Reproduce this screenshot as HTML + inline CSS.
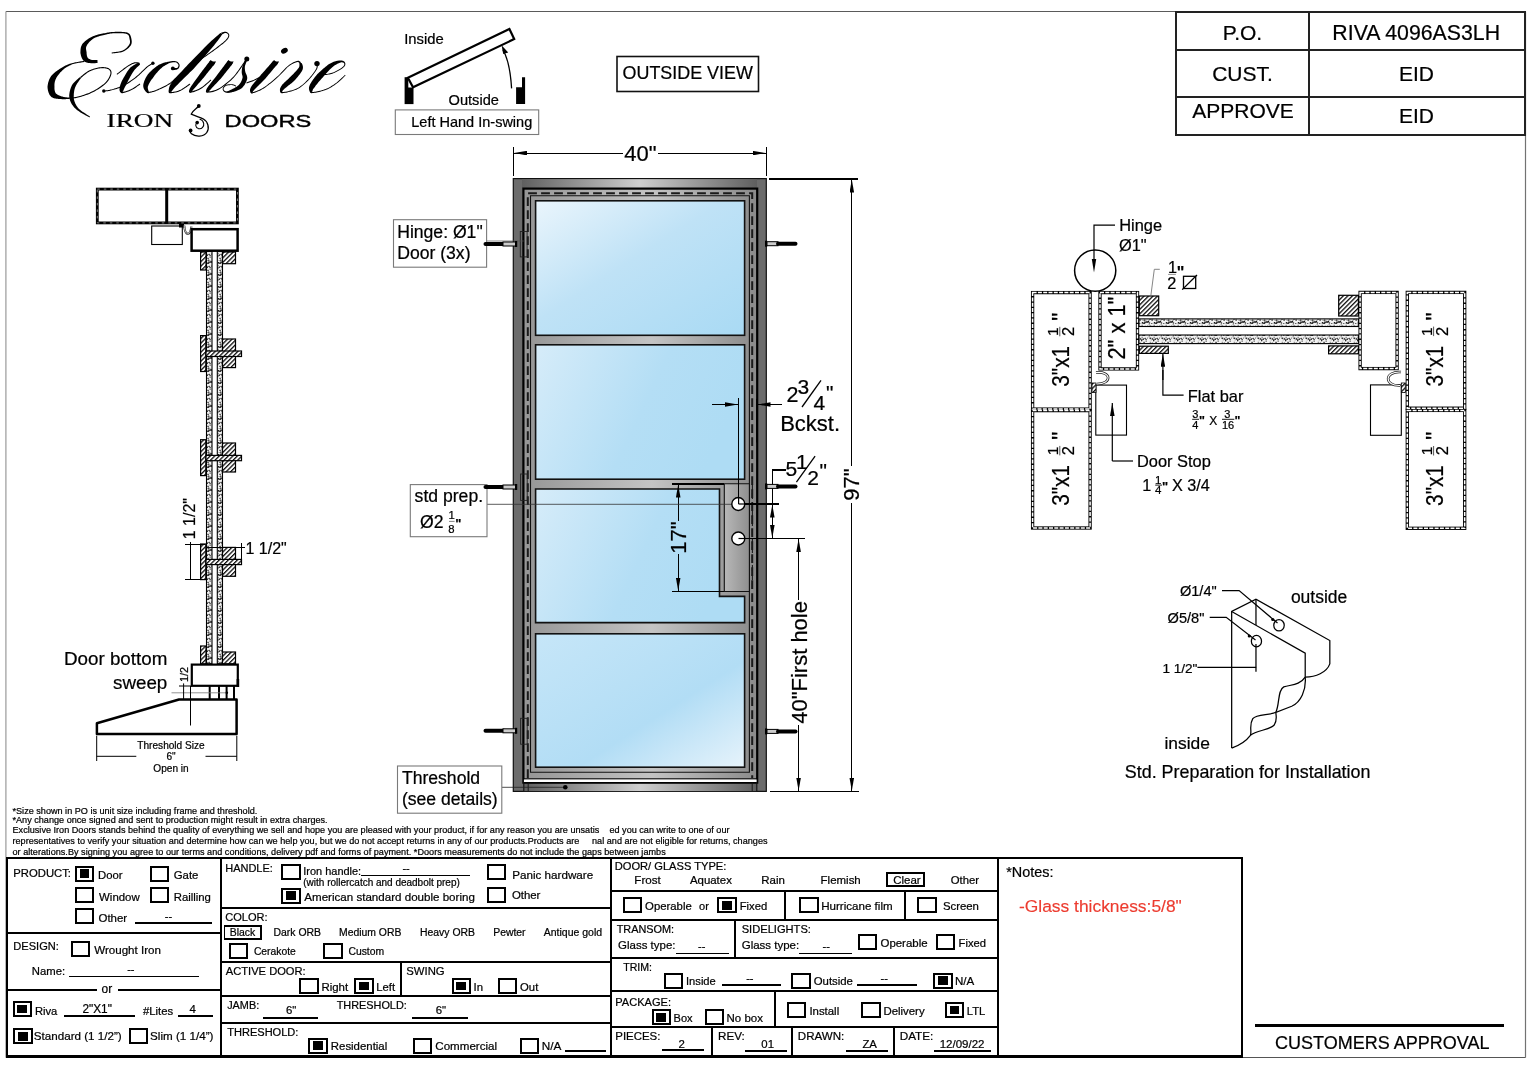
<!DOCTYPE html>
<html><head><meta charset="utf-8">
<style>
html,body{margin:0;padding:0;background:#fff;width:1536px;height:1070px;overflow:hidden}
svg{display:block;position:absolute;left:0;top:0;will-change:transform}
text{font-family:"Liberation Sans",sans-serif;fill:#000;stroke:#000;stroke-width:0.22px}
.s{font-family:"Liberation Serif",serif}
</style></head><body>
<svg width="1536" height="1070" viewBox="0 0 1536 1070">
<defs>
</defs>
<!-- page border -->
<g stroke-width="1.2" fill="none">
<line x1="5.9" y1="11.5" x2="1525.5" y2="11.5" stroke="#5a5a5a"/>
<line x1="5.9" y1="11.5" x2="5.9" y2="1057.5" stroke="#9a9a9a"/>
<line x1="1525.5" y1="11.5" x2="1525.5" y2="1057.5" stroke="#727272"/>
<line x1="5.9" y1="1057.5" x2="1525.5" y2="1057.5" stroke="#555"/>
</g>

<!-- title table -->
<g fill="none" stroke="#222" stroke-width="2" shape-rendering="crispEdges">
<rect x="1176" y="12" width="349" height="122.5"/>
<line x1="1309" y1="12" x2="1309" y2="134.5"/>
<line x1="1176" y1="50.2" x2="1525" y2="50.2"/>
<line x1="1176" y1="96.5" x2="1525" y2="96.5"/>
</g>
<g font-size="21" text-anchor="middle">
<text x="1242.5" y="39.6">P.O.</text>
<text x="1416.2" y="39.6" font-size="21.3">RIVA 4096AS3LH</text>
<text x="1242.5" y="81.2">CUST.</text>
<text x="1416.5" y="81.2">EID</text>
<text x="1243" y="117.8">APPROVE</text>
<text x="1416.5" y="123">EID</text>
</g>

<!-- outside view -->
<rect x="617" y="56.5" width="141.5" height="35" fill="none" stroke="#111" stroke-width="1.6"/>
<text x="687.7" y="79" font-size="17.9" text-anchor="middle">OUTSIDE VIEW</text>


<!-- ===== DOOR ELEVATION ===== -->
<defs>
<linearGradient id="glass" x1="0" y1="0" x2="1" y2="1">
<stop offset="0" stop-color="#eaf5fc"/><stop offset="0.45" stop-color="#bfe2f6"/><stop offset="1" stop-color="#a9daf4"/>
</linearGradient>
<linearGradient id="glass2" x1="0" y1="0" x2="1" y2="0.3">
<stop offset="0" stop-color="#d6ecf9"/><stop offset="0.6" stop-color="#b4def5"/><stop offset="1" stop-color="#aedcf4"/>
</linearGradient>
<linearGradient id="glass4" x1="0" y1="0" x2="1" y2="1">
<stop offset="0" stop-color="#c6e6f8"/><stop offset="0.6" stop-color="#b2ddf5"/><stop offset="1" stop-color="#e6f3fb"/>
</linearGradient>
<linearGradient id="rail" x1="0" y1="0" x2="1" y2="0">
<stop offset="0" stop-color="#5f5f5f"/><stop offset="0.5" stop-color="#cfcfcf"/><stop offset="1" stop-color="#5f5f5f"/>
</linearGradient>
<linearGradient id="mun" x1="0" y1="0" x2="1" y2="0">
<stop offset="0" stop-color="#959595"/><stop offset="0.55" stop-color="#c4c4c4"/><stop offset="1" stop-color="#8a8a8a"/>
</linearGradient>
<linearGradient id="plate" x1="0" y1="0" x2="1" y2="0">
<stop offset="0" stop-color="#b8b8b8"/><stop offset="1" stop-color="#8f8f8f"/>
</linearGradient>
</defs>
<g>
<!-- frame -->
<rect x="513.3" y="178.6" width="253" height="612.8" fill="#6c6c6c" stroke="#111" stroke-width="1.2"/>
<rect x="522" y="179.2" width="235" height="9" fill="url(#rail)"/>
<rect x="523.5" y="782.5" width="233" height="8.6" fill="url(#rail)"/>
<!-- sash region -->
<rect x="523.4" y="188.6" width="233.8" height="594" fill="url(#mun)" stroke="#000" stroke-width="2.2"/>
<!-- bottom white stripe -->
<rect x="523.9" y="779.3" width="232.7" height="2.8" fill="#fff" stroke="none"/>
<line x1="523.4" y1="778.8" x2="757" y2="778.8" stroke="#000" stroke-width="1"/>
<line x1="523.4" y1="782.6" x2="757" y2="782.6" stroke="#000" stroke-width="1.1"/>
<line x1="528.2" y1="782.6" x2="528.2" y2="791" stroke="#111" stroke-width="0.9"/>
<line x1="523.8" y1="782" x2="523.8" y2="791" stroke="#111" stroke-width="1.1"/>
<line x1="752.2" y1="782.6" x2="752.2" y2="791" stroke="#111" stroke-width="0.9"/>
<line x1="756.8" y1="782" x2="756.8" y2="791" stroke="#111" stroke-width="1.1"/>
<!-- dashed line -->
<path d="M527.8,778 V193.3 H752.2 V778" fill="none" stroke="#1a1a1a" stroke-width="2" stroke-dasharray="8.8 4.2"/>
<!-- sash inner line -->
<path d="M530.5,772.2 V195.8 H749.4 V772.2 Z" fill="none" stroke="#111" stroke-width="1.1"/>
<!-- glass panes -->
<rect x="535.6" y="200.8" width="209" height="134.5" fill="url(#glass)" stroke="#111" stroke-width="1.6"/>
<rect x="535.6" y="344.8" width="209" height="134.4" fill="url(#glass2)" stroke="#111" stroke-width="1.6"/>
<path d="M535.6,489 H719.5 V596.4 H744.6 V622.6 H535.6 Z" fill="url(#glass2)" stroke="#111" stroke-width="1.6"/>
<rect x="535.6" y="633.8" width="209" height="133.4" fill="url(#glass4)" stroke="#111" stroke-width="1.6"/>
<!-- lock plate -->
<path d="M724.3,483.8 H749.4 V591.5 H724.3 Z" fill="url(#plate)" stroke="#111" stroke-width="1.1"/>
<line x1="752.4" y1="484" x2="752.4" y2="592" stroke="#1a1a1a" stroke-width="1.1" stroke-dasharray="6 3"/>
<!-- threshold leader -->
<line x1="502" y1="787.3" x2="565" y2="787.3" stroke="#222" stroke-width="0.8"/>
<circle cx="565.3" cy="787.3" r="2.3" fill="#000"/>
</g>


<!-- ===== DOOR ANNOTATIONS ===== -->
<defs>
<marker id="ar" viewBox="0 0 13 4.6" refX="13" refY="2.3" markerWidth="13" markerHeight="4.6" markerUnits="userSpaceOnUse" orient="auto">
<path d="M0,0 L13,2.3 L0,4.6 Z" fill="#000"/>
</marker>
</defs>
<g stroke="#000" stroke-width="1.2" fill="none" shape-rendering="crispEdges">
<!-- 40" dim -->
<line x1="513.1" y1="146.5" x2="513.1" y2="175.6"/>
<line x1="766.5" y1="147" x2="766.5" y2="175.5"/>
<line x1="623" y1="153.1" x2="514" y2="153.1" marker-end="url(#ar)"/>
<line x1="658" y1="153.1" x2="765.5" y2="153.1" marker-end="url(#ar)"/>
<!-- 97" dim -->
<line x1="769.3" y1="178.9" x2="858.1" y2="178.9"/>
<line x1="770" y1="791.3" x2="858.5" y2="791.3"/>
<line x1="851.8" y1="466" x2="851.8" y2="179.5" marker-end="url(#ar)"/>
<line x1="851.8" y1="503" x2="851.8" y2="790.8" marker-end="url(#ar)"/>
<!-- 40" first hole -->
<line x1="798.6" y1="600" x2="798.6" y2="539" marker-end="url(#ar)"/>
<line x1="798.6" y1="725" x2="798.6" y2="790.8" marker-end="url(#ar)"/>
<line x1="738.5" y1="538.5" x2="805.4" y2="538.5"/>
<!-- 5 1/2 -->
<line x1="738.5" y1="504" x2="779" y2="504"/>
<path d="M786.4,469.9 H772.3 V538"/>
<line x1="772.3" y1="521" x2="772.3" y2="504.6" marker-end="url(#ar)"/>
<line x1="772.3" y1="521" x2="772.3" y2="538" marker-end="url(#ar)"/>
<!-- backset -->
<line x1="712.3" y1="404.5" x2="738" y2="404.5" marker-end="url(#ar)"/>
<line x1="738.6" y1="397.7" x2="738.6" y2="503"/>
<line x1="781.5" y1="404.5" x2="757.5" y2="404.5" marker-end="url(#ar)"/>
<!-- 17" -->
<line x1="672" y1="484" x2="724" y2="484"/>
<line x1="672" y1="591.3" x2="724" y2="591.3"/>
<line x1="678.2" y1="521" x2="678.2" y2="484.6" marker-end="url(#ar)"/>
<line x1="678.2" y1="554" x2="678.2" y2="590.7" marker-end="url(#ar)"/>
</g>
<line x1="487" y1="504.3" x2="738" y2="504.3" stroke="#333" stroke-width="0.8"/>
<line x1="757" y1="399" x2="757" y2="442.6" stroke="#000" stroke-width="1.6"/>
<!-- holes -->
<circle cx="738.3" cy="504" r="6.5" fill="#fff" stroke="#000" stroke-width="1.4"/>
<circle cx="738.3" cy="538.5" r="6.5" fill="#fff" stroke="#000" stroke-width="1.4"/>
<line x1="738.6" y1="497.5" x2="738.6" y2="504" stroke="#000" stroke-width="1.2"/>
<line x1="738.5" y1="538.5" x2="745" y2="538.5" stroke="#000" stroke-width="1.2"/>
<line x1="738.5" y1="504" x2="745" y2="504" stroke="#000" stroke-width="1.2"/>

<!-- hinge pins -->
<defs>
<g id="pinL">
<line x1="0.5" y1="0" x2="19" y2="0" stroke="#000" stroke-width="4" stroke-linecap="round"/>
<rect x="18" y="-2" width="12.5" height="4" fill="#ccc" stroke="#000" stroke-width="1"/>
<rect x="30" y="-3" width="2.2" height="6" fill="#000"/>
</g>
<g id="pinR">
<rect x="-1" y="-3" width="2.2" height="6" fill="#000"/>
<rect x="1" y="-2" width="11" height="4" fill="#ccc" stroke="#000" stroke-width="1"/>
<line x1="12" y1="0" x2="29.5" y2="0" stroke="#000" stroke-width="4" stroke-linecap="round"/>
</g>
</defs>

<g fill="none" stroke="#222" stroke-width="0.9">
<rect x="520.3" y="231.5" width="6.8" height="25.4"/>
<rect x="520.6" y="474" width="6.6" height="26.4"/>
<rect x="520.6" y="718.3" width="6.6" height="25.9"/>
<line x1="486.8" y1="241" x2="523.7" y2="241" stroke="#555" stroke-width="0.7"/>
</g>

<!-- label boxes -->
<g fill="#fff" stroke="#7a7a7a" stroke-width="1.1">
<rect x="395.3" y="109.9" width="143.4" height="24.6"/>
<rect x="393.5" y="219.7" width="93.1" height="47.5"/>
<rect x="410.3" y="484.6" width="76.7" height="52.1"/>
<rect x="397.5" y="766" width="104.3" height="47.2"/>
</g>
<use href="#pinL" x="485" y="244"/>
<use href="#pinL" x="485" y="487"/>
<use href="#pinL" x="485" y="730.8"/>
<use href="#pinR" x="766" y="243.7"/>
<use href="#pinR" x="766" y="486.4"/>
<use href="#pinR" x="766" y="731.4"/>
<text x="411.3" y="127" font-size="14.5">Left Hand In-swing</text>
<text x="397.2" y="237.8" font-size="17.6">Hinge: Ø1"</text>
<text x="397.2" y="259.3" font-size="17.6">Door (3x)</text>
<text x="414.6" y="502.2" font-size="17.6">std prep.</text>
<text x="420" y="527.6" font-size="17.6">Ø2</text>
<text x="401.9" y="783.6" font-size="17.6">Threshold</text>
<text x="401.9" y="804.8" font-size="17.6">(see details)</text>

<!-- dim texts -->
<text x="624.3" y="161" font-size="22">40"</text>
<text transform="translate(858.5,484.5) rotate(-90)" font-size="22" text-anchor="middle">97"</text>
<text transform="translate(806.5,662.4) rotate(-90)" font-size="22" text-anchor="middle">40"First hole</text>
<text transform="translate(686,537.5) rotate(-90)" font-size="22" text-anchor="middle">17"</text>
<text x="780.2" y="430.6" font-size="22">Bckst.</text>

<!-- swing diagram -->
<text x="404.2" y="44.4" font-size="14.8">Inside</text>
<text x="448.6" y="105.2" font-size="14.6">Outside</text>
<rect x="404.6" y="77.2" width="8.9" height="26.9" fill="#000"/>
<path d="M408.3,79.2 L413.2,87.5 H408.3 Z" fill="#fff"/>
<path d="M516.1,87.3 H522 V77.2 H525.1 V104.1 H516.1 Z" fill="#000"/>
<path d="M407.9,77.7 L509.4,29 L514.2,39.1 L413,87.3 Z" fill="#fff" stroke="#000" stroke-width="2.2" stroke-linejoin="miter"/>
<path d="M511.6,88.4 Q510,62 503,50" fill="none" stroke="#000" stroke-width="1.3"/>
<path d="M501.6,45.2 L508.2,52.6 L503.2,54 Z" fill="#000"/>


<!-- fractions -->
<text x="786.4" y="401.6" font-size="21.5">2</text>
<text x="797.6" y="393.6" font-size="21">3</text>
<line x1="802" y1="407" x2="821" y2="380.3" stroke="#000" stroke-width="1.3"/>
<text x="813.4" y="409.5" font-size="21">4</text>
<text x="826" y="400" font-size="21">"</text>
<text x="785.5" y="476" font-size="21">5</text>
<text x="796" y="468.7" font-size="21">1</text>
<line x1="796.4" y1="482.2" x2="815.1" y2="456.2" stroke="#000" stroke-width="1.3"/>
<text x="807.2" y="485.3" font-size="21">2</text>
<text x="819.6" y="477.5" font-size="21">"</text>
<text x="448.6" y="519.3" font-size="11.3">1</text>
<line x1="449" y1="521.4" x2="454.6" y2="521.4" stroke="#666" stroke-width="0.8"/>
<text x="448.2" y="532.7" font-size="11.3">8</text>
<text x="455.3" y="527.6" font-size="13" font-weight="bold">"</text>


<!-- ===== LEFT SECTION VIEW ===== -->
<defs>
<pattern id="hatch" patternUnits="userSpaceOnUse" width="3.2" height="3.2" patternTransform="rotate(45)">
<rect width="3.2" height="3.2" fill="#fff"/><rect width="1.3" height="3.2" fill="#111"/>
</pattern>
<pattern id="stip" patternUnits="userSpaceOnUse" width="12" height="12"><rect width="12" height="12" fill="#f2f2f2"/><g fill="#111"><rect x="7.5" y="8.9" width="1.3" height="1.3"/><rect x="8.9" y="11.1" width="0.5" height="0.9"/><rect x="11.3" y="7.8" width="1.4" height="0.6"/><rect x="5.6" y="3.0" width="1.0" height="1.0"/><rect x="0.2" y="2.6" width="0.8" height="1.2"/><rect x="9.2" y="1.9" width="1.3" height="0.6"/><rect x="7.4" y="1.5" width="0.5" height="1.2"/><rect x="2.5" y="2.6" width="1.5" height="1.2"/><rect x="3.5" y="11.5" width="1.0" height="1.0"/><rect x="2.5" y="11.3" width="1.2" height="1.3"/><rect x="10.7" y="3.6" width="0.9" height="0.6"/><rect x="1.7" y="0.8" width="0.8" height="1.0"/><rect x="0.0" y="8.1" width="0.8" height="0.7"/><rect x="9.8" y="5.8" width="0.8" height="0.9"/><rect x="8.5" y="0.7" width="1.5" height="0.5"/><rect x="9.0" y="10.1" width="0.5" height="1.1"/><rect x="4.4" y="6.9" width="0.5" height="0.5"/><rect x="2.2" y="11.5" width="0.7" height="1.1"/><rect x="11.2" y="11.3" width="0.8" height="0.8"/><rect x="6.3" y="9.3" width="0.6" height="1.1"/><rect x="9.6" y="10.3" width="0.5" height="1.3"/><rect x="1.1" y="4.1" width="1.1" height="1.2"/><rect x="4.1" y="11.1" width="1.0" height="0.7"/><rect x="3.8" y="2.1" width="0.6" height="0.6"/><rect x="8.3" y="12.0" width="0.7" height="0.5"/><rect x="11.8" y="6.4" width="0.9" height="0.7"/><rect x="7.1" y="9.9" width="1.0" height="0.8"/><rect x="0.7" y="11.0" width="0.5" height="0.9"/><rect x="10.1" y="1.6" width="1.2" height="1.3"/><rect x="7.6" y="9.5" width="0.6" height="0.8"/><rect x="1.8" y="10.1" width="0.8" height="0.9"/><rect x="12.0" y="10.2" width="1.5" height="0.9"/><rect x="5.9" y="8.8" width="1.0" height="0.7"/><rect x="4.8" y="1.8" width="0.9" height="1.3"/><rect x="11.5" y="7.5" width="1.0" height="0.8"/><rect x="1.1" y="3.3" width="1.3" height="1.2"/><rect x="4.3" y="9.4" width="1.3" height="1.1"/><rect x="8.0" y="9.1" width="0.9" height="1.1"/><rect x="3.4" y="5.8" width="1.3" height="1.1"/><rect x="3.5" y="11.3" width="1.1" height="1.0"/><rect x="0.1" y="6.6" width="0.8" height="1.0"/><rect x="5.6" y="9.8" width="1.1" height="1.1"/><rect x="4.2" y="7.7" width="1.2" height="1.2"/><rect x="4.2" y="10.1" width="1.4" height="1.1"/><rect x="11.7" y="11.5" width="1.0" height="0.9"/><rect x="2.0" y="10.0" width="1.4" height="0.9"/><rect x="8.3" y="8.6" width="1.2" height="0.6"/><rect x="9.4" y="7.0" width="1.2" height="0.8"/><rect x="7.5" y="9.3" width="1.1" height="1.1"/><rect x="0.3" y="1.9" width="0.9" height="1.0"/><rect x="2.6" y="8.2" width="1.1" height="0.5"/><rect x="5.7" y="2.7" width="0.6" height="0.6"/><rect x="3.8" y="2.2" width="0.7" height="0.5"/><rect x="5.6" y="4.6" width="1.1" height="1.0"/><rect x="2.9" y="10.8" width="0.5" height="0.8"/></g></pattern>
</defs>
<g stroke="#000">
<!-- header -->
<rect x="97.3" y="189.1" width="140.1" height="33.8" fill="#fff" stroke-width="2.8"/>
<line x1="166.7" y1="188" x2="166.7" y2="224" stroke-width="3"/>
<g fill="none" stroke="#fff" stroke-width="0.5" stroke-dasharray="2.5 4">
<rect x="97.3" y="189.1" width="140.1" height="33.8"/>
</g>
<rect x="151.7" y="226" width="30.6" height="18.5" fill="#fff" stroke-width="1.1"/>
<rect x="179" y="224" width="5" height="3.5" fill="#000" stroke="none"/>
<path d="M184.2,225.5 C185,236.5 190.5,236.5 191.3,226.5" fill="none" stroke="#222" stroke-width="2.2"/>
<path d="M184.2,225.5 C185,236.5 190.5,236.5 191.3,226.5" fill="none" stroke="#fff" stroke-width="0.8" style="stroke:#fff"/>
<!-- door top -->
<rect x="191.6" y="229.2" width="46" height="21.5" fill="#fff" stroke-width="2.5"/>
<!-- glass -->
<rect x="206.5" y="251.5" width="5.5" height="412.3" fill="url(#stip)" stroke-width="1.1"/>
<rect x="217.3" y="251.5" width="5.2" height="412.3" fill="url(#stip)" stroke-width="1.1"/>
<!-- hatched blocks -->
<g fill="url(#hatch)" stroke-width="1.2">
<rect x="200.6" y="252" width="5.4" height="18"/>
<rect x="222.5" y="252" width="13" height="11.7"/>
<rect x="200.6" y="335.6" width="5.2" height="35.9"/>
<rect x="222.5" y="339" width="13" height="28.6"/>
<rect x="206" y="351" width="35.5" height="5.5"/>
<rect x="200.6" y="439.7" width="5.2" height="35.9"/>
<rect x="222.5" y="443" width="13" height="29"/>
<rect x="206" y="455.4" width="35.5" height="5.3"/>
<rect x="200.6" y="544" width="5.2" height="35.6"/>
<rect x="222.5" y="547.4" width="13" height="28.9"/>
<rect x="206" y="559.4" width="35.5" height="5.2"/>
<rect x="200.6" y="646" width="5.4" height="17.8"/>
<rect x="222.5" y="652" width="13" height="11.8"/>
</g>
<!-- bottom door rect -->
<rect x="191.8" y="664.6" width="46" height="21.2" fill="#fff" stroke-width="2.2"/>
<rect x="236.6" y="679" width="2.6" height="8" fill="#000" stroke="none"/>
<g stroke-width="2">
<line x1="209.7" y1="686" x2="209.7" y2="699"/>
<line x1="219" y1="686" x2="219" y2="699"/>
<line x1="226.6" y1="686" x2="226.6" y2="699"/>
<line x1="234" y1="686" x2="234" y2="699"/>
</g>
<line x1="171.5" y1="692.8" x2="228" y2="692.8" stroke="#777" stroke-width="0.8"/>
<circle cx="226.8" cy="692.8" r="1.3" fill="#000" stroke="none"/>
<!-- threshold -->
<path d="M96.9,723.2 L179,699.5 H236.6 V734 H96.9 Z" fill="#fff" stroke-width="2.5" stroke-linejoin="round"/>
<line x1="190.5" y1="686" x2="190.5" y2="725.5" stroke-width="1"/>
<!-- 1/2 dim -->
<line x1="183.6" y1="683.4" x2="183.6" y2="699.3" stroke-width="1"/>
<line x1="179" y1="686" x2="192" y2="686" stroke-width="1"/>
<!-- threshold dim -->
<g stroke-width="1">
<line x1="96.7" y1="735.7" x2="96.7" y2="761"/>
<line x1="236.8" y1="735.7" x2="236.8" y2="761"/>
<line x1="96.7" y1="756.3" x2="136.3" y2="756.3"/>
<line x1="205.5" y1="756.3" x2="236.8" y2="756.3"/>
</g>
<!-- 1 1/2 dims -->
<g stroke-width="1" shape-rendering="crispEdges">
<line x1="190.1" y1="541.5" x2="190.1" y2="579.6"/>
<line x1="185.2" y1="544.5" x2="204.9" y2="544.5"/>
<line x1="185.2" y1="579.6" x2="204.9" y2="579.6"/>
<line x1="241" y1="543.4" x2="241" y2="558.5"/>
<line x1="207" y1="547.3" x2="244.5" y2="547.3"/>
</g>
</g>
<text transform="translate(195.2,518.6) rotate(-90)" font-size="16" text-anchor="middle">1 1/2"</text>
<text x="245.5" y="553.8" font-size="16">1 1/2"</text>
<text transform="translate(188.2,674.5) rotate(-90)" font-size="10.8" text-anchor="middle">1/2</text>
<text x="167.3" y="664.7" font-size="18.8" text-anchor="end">Door bottom</text>
<text x="167.3" y="688.5" font-size="18.8" text-anchor="end">sweep</text>
<text x="171" y="748.8" font-size="10.1" text-anchor="middle">Threshold Size</text>
<text x="171" y="760" font-size="10.1" text-anchor="middle">6"</text>
<text x="171" y="771.6" font-size="10.1" text-anchor="middle">Open in</text>


<!-- ===== RIGHT SECTION VIEW ===== -->
<defs>
<g id="wallbox"><rect x="0" y="0" width="1" height="1"/></g>
</defs>
<g fill="none" stroke="#000">
<!-- frame tubes -->
<g stroke-width="3.3">
<rect x="1032.6" y="292.6" width="57.5" height="116.5"/>
<rect x="1032.6" y="410.6" width="57.5" height="117.4"/>
<rect x="1100" y="292.6" width="37.5" height="76.3"/>
<rect x="1360.1" y="292.4" width="37" height="76.2"/>
<rect x="1407.3" y="292.4" width="57.4" height="115.8"/>
<rect x="1407.3" y="410.4" width="57.4" height="117.9"/>
</g>
<g stroke-width="1.5" stroke="#fff" stroke-dasharray="4 1.3" style="stroke:#fff">
<rect x="1032.6" y="292.6" width="57.5" height="116.5"/>
<rect x="1032.6" y="410.6" width="57.5" height="117.4"/>
<rect x="1100" y="292.6" width="37.5" height="76.3"/>
<rect x="1360.1" y="292.4" width="37" height="76.2"/>
<rect x="1407.3" y="292.4" width="57.4" height="115.8"/>
<rect x="1407.3" y="410.4" width="57.4" height="117.9"/>
</g>
</g>
<g stroke="#000">
<!-- glass strips -->
<rect x="1139" y="318.9" width="219.4" height="7.6" fill="url(#stip)" stroke-width="1.1"/>
<rect x="1139" y="335" width="219.4" height="8.6" fill="url(#stip)" stroke-width="1.1"/>
<g fill="url(#hatch)" stroke-width="1.2">
<rect x="1139.3" y="296" width="19.4" height="19.7"/>
<rect x="1139.3" y="346.2" width="29" height="7.2"/>
<rect x="1338.7" y="295.3" width="19.7" height="20.7"/>
<rect x="1328.6" y="345.9" width="29.8" height="7.9"/>
</g>
<!-- stops -->
<rect x="1095.8" y="385.1" width="30.7" height="50" fill="#fff" stroke-width="1.1"/>
<rect x="1370.5" y="384.9" width="30.8" height="50.4" fill="#fff" stroke-width="1.1"/>
<!-- weatherstrips -->
<path d="M1096,372.5 C1112,371 1112,384 1097,384" fill="none" stroke="#222" stroke-width="2.6"/>
<path d="M1096,372.5 C1112,371 1112,384 1097,384" fill="none" stroke="#fff" stroke-width="1.1"/>
<path d="M1401,372 C1384,371 1384,386 1400,385.5" fill="none" stroke="#222" stroke-width="2.6"/>
<path d="M1401,372 C1384,371 1384,386 1400,385.5" fill="none" stroke="#fff" stroke-width="1.1"/>
<rect x="1092" y="383" width="4" height="9.5" fill="url(#hatch)" stroke-width="0.8"/>
<rect x="1401.3" y="383" width="4" height="9.5" fill="url(#hatch)" stroke-width="0.8"/>
<!-- hinge -->
<circle cx="1095.2" cy="270.6" r="20.6" fill="#fff" stroke-width="1.5"/>
<g fill="none" stroke-width="1.2">
<path d="M1115,225.2 H1094 V262"/>
<path d="M1112.3,461 H1133"/>
<line x1="1112.3" y1="461" x2="1112.3" y2="403" marker-end="url(#ar)"/>
<path d="M1183.6,395.1 H1162.9 V370"/>
<line x1="1162.9" y1="380" x2="1162.9" y2="353.8" marker-end="url(#ar)"/>
</g>
<path d="M1094,272.5 L1091.8,259 H1096.2 Z" fill="#000" stroke="none"/>
<path d="M1150.9,295.3 L1154.3,269.3 H1159.8" fill="none" stroke="#777" stroke-width="0.9"/>
<rect x="1183.5" y="276.3" width="12.2" height="12.2" fill="none" stroke-width="1.3"/>
<line x1="1182.2" y1="289.6" x2="1197" y2="275" stroke-width="1.3"/>
</g>
<text x="1119.2" y="231.1" font-size="16.4">Hinge</text>
<text x="1119" y="250.5" font-size="16.4">Ø1"</text>
<text x="1168" y="272.9" font-size="16.3">1</text>
<line x1="1168.1" y1="274.4" x2="1175.9" y2="274.4" stroke="#888" stroke-width="0.9"/>
<text x="1167.2" y="288.8" font-size="16.3">2</text>
<text x="1176.7" y="278.2" font-size="16" font-weight="bold">"</text>
<text x="1187.8" y="401.9" font-size="16.4">Flat bar</text>
<g font-size="11">
<text x="1192.2" y="417.6">3</text>
<text x="1192.2" y="429.3">4</text>
<text x="1224.3" y="417.6">3</text>
<text x="1222" y="429.3">16</text>
</g>
<line x1="1192.2" y1="419.3" x2="1199" y2="419.3" stroke="#000" stroke-width="0.9"/>
<line x1="1222" y1="419.3" x2="1234.3" y2="419.3" stroke="#000" stroke-width="0.9"/>
<text x="1199" y="425" font-size="12.5" font-weight="bold">"</text>
<text x="1209.2" y="424.9" font-size="12">X</text>
<text x="1234.5" y="425" font-size="12.5" font-weight="bold">"</text>
<text x="1137" y="466.6" font-size="16.4">Door Stop</text>
<text x="1142.3" y="490.8" font-size="16.2">1</text>
<text x="1155" y="483.7" font-size="11.5">1</text>
<line x1="1155.2" y1="485.1" x2="1162" y2="485.1" stroke="#000" stroke-width="0.9"/>
<text x="1154.9" y="494.4" font-size="11.5">4</text>
<text x="1162" y="490.8" font-size="13" font-weight="bold">"</text>
<text x="1172" y="490.8" font-size="16.2">X 3/4</text>

<!-- rotated box labels -->
<defs>
<g id="lbl3">
<text x="0" y="0" font-size="24" textLength="40.8" lengthAdjust="spacingAndGlyphs">3"x1</text>
<text x="50.6" y="-11.3" font-size="15.5">1</text>
<line x1="50.4" y1="-9.3" x2="59.9" y2="-9.3" stroke="#555" stroke-width="1"/>
<text x="50.6" y="4.6" font-size="16.5">2</text>
<text x="65.8" y="0" font-size="24">"</text>
</g>
</defs>
<use href="#lbl3" transform="translate(1069.1,386.7) rotate(-90)"/>
<use href="#lbl3" transform="translate(1069.1,505.8) rotate(-90)"/>
<use href="#lbl3" transform="translate(1442.9,386.5) rotate(-90)"/>
<use href="#lbl3" transform="translate(1442.9,505.9) rotate(-90)"/>
<text transform="translate(1125.1,359.6) rotate(-90)" font-size="23" textLength="63" lengthAdjust="spacingAndGlyphs">2" x 1"</text>


<!-- ===== STD PREP DRAWING ===== -->
<g transform="translate(1225,590) scale(0.15883)" fill="none" stroke="#000">
<g stroke-width="1.25" vector-effect="non-scaling-stroke">
<path vector-effect="non-scaling-stroke" d="M42,995 V135 L195,58 L660,318 V465 C640,520 570,548 505,548"/>
<path vector-effect="non-scaling-stroke" d="M42,135 L505,398 V548 C512,630 478,708 420,732 L320,770 C322,800 330,820 310,850 C280,885 200,880 160,915 C130,955 100,975 42,995"/>
<path vector-effect="non-scaling-stroke" d="M505,548 C470,600 420,595 370,610 C330,630 345,720 320,770 C280,790 200,780 175,810 C150,850 170,890 160,915"/>
<path vector-effect="non-scaling-stroke" d="M195,58 V220"/>
<ellipse vector-effect="non-scaling-stroke" cx="340" cy="222" rx="33" ry="36"/>
<ellipse vector-effect="non-scaling-stroke" cx="198" cy="322" rx="32" ry="36"/>
<path vector-effect="non-scaling-stroke" d="M195,340 V515"/>
</g>
</g>
<g stroke="#000" stroke-width="1.2" fill="none">
<path d="M1222,590.6 H1239.1 L1277.5,623"/>
<path d="M1209.7,617.3 H1226.2 L1255.5,640"/>
<path d="M1197.4,667.3 H1256.2"/>
</g>
<circle cx="1272.8" cy="619.5" r="1.6" fill="#000"/>
<circle cx="1249.3" cy="636" r="1.6" fill="#000"/>
<text x="1179.9" y="595.7" font-size="14.6">Ø1/4"</text>
<text x="1167.6" y="623" font-size="14.6">Ø5/8"</text>
<text x="1162.4" y="672.8" font-size="13.6">1 1/2"</text>
<text x="1290.9" y="602.9" font-size="17.5">outside</text>
<text x="1164.5" y="748.9" font-size="17.4">inside</text>
<text x="1124.8" y="777.6" font-size="17.9">Std. Preparation for Installation</text>

<!-- ===== FORM ===== -->
<g stroke="#000" fill="none" shape-rendering="crispEdges"><rect x="7" y="858" width="991.2" height="198.4" fill="none" stroke-width="2.2"/>
<line x1="221" y1="858" x2="221" y2="1056.4" stroke-width="2"/>
<line x1="611" y1="858" x2="611" y2="1056.4" stroke-width="2"/>
<line x1="7" y1="933.4" x2="221" y2="933.4" stroke-width="2"/>
<line x1="7" y1="989.7" x2="97.1" y2="989.7" stroke-width="2"/>
<line x1="117.7" y1="989.7" x2="221" y2="989.7" stroke-width="2"/>
<line x1="221" y1="908.3" x2="611" y2="908.3" stroke-width="2"/>
<line x1="221" y1="962.2" x2="611" y2="962.2" stroke-width="2"/>
<line x1="221" y1="995.6" x2="611" y2="995.6" stroke-width="2"/>
<line x1="221" y1="1022.7" x2="611" y2="1022.7" stroke-width="2"/>
<line x1="401.4" y1="962.2" x2="401.4" y2="995.6" stroke-width="2"/>
<line x1="611" y1="891.2" x2="998.2" y2="891.2" stroke-width="2"/>
<line x1="611" y1="919.7" x2="998.2" y2="919.7" stroke-width="2"/>
<line x1="611" y1="957.9" x2="998.2" y2="957.9" stroke-width="2"/>
<line x1="611" y1="991.3" x2="998.2" y2="991.3" stroke-width="2"/>
<line x1="611" y1="1026.6" x2="998.2" y2="1026.6" stroke-width="2"/>
<line x1="784.5" y1="891.2" x2="784.5" y2="919.7" stroke-width="2"/>
<line x1="905" y1="891.2" x2="905" y2="919.7" stroke-width="2"/>
<line x1="735.4" y1="919.7" x2="735.4" y2="957.9" stroke-width="2"/>
<line x1="775" y1="991.3" x2="775" y2="1026.6" stroke-width="2"/>
<line x1="711.5" y1="1026.6" x2="711.5" y2="1056.4" stroke-width="2"/>
<line x1="792.3" y1="1026.6" x2="792.3" y2="1056.4" stroke-width="2"/>
<line x1="894.2" y1="1026.6" x2="894.2" y2="1056.4" stroke-width="2"/>
<path d="M998.2,858 H1242.2 V1056.4 H998.2" fill="none" stroke-width="2.2"/>
<line x1="135.4" y1="923" x2="212" y2="923" stroke-width="1.6"/>
<line x1="68.7" y1="976.6" x2="199.2" y2="976.6" stroke-width="1.6"/>
<line x1="64.4" y1="1015.8" x2="135" y2="1015.8" stroke-width="1.6"/>
<line x1="177.6" y1="1015.8" x2="212.9" y2="1015.8" stroke-width="1.6"/>
<line x1="361.2" y1="875.5" x2="469.7" y2="875.5" stroke-width="1.6"/>
<line x1="263.1" y1="1017.8" x2="318" y2="1017.8" stroke-width="1.6"/>
<line x1="412.2" y1="1017.8" x2="467.7" y2="1017.8" stroke-width="1.6"/>
<line x1="565.2" y1="1051.1" x2="605.7" y2="1051.1" stroke-width="1.6"/>
<line x1="675.5" y1="953.6" x2="728.5" y2="953.6" stroke-width="1.6"/>
<line x1="799.2" y1="953.6" x2="852" y2="953.6" stroke-width="1.6"/>
<line x1="721.7" y1="985" x2="780.5" y2="985" stroke-width="1.6"/>
<line x1="857.3" y1="985" x2="917.3" y2="985" stroke-width="1.6"/>
<line x1="662.4" y1="1050.2" x2="704" y2="1050.2" stroke-width="1.6"/>
<line x1="745.2" y1="1051.1" x2="786.8" y2="1051.1" stroke-width="1.6"/>
<line x1="846.1" y1="1051.1" x2="888.3" y2="1051.1" stroke-width="1.6"/>
<line x1="933.8" y1="1051.1" x2="991.3" y2="1051.1" stroke-width="1.6"/>
<rect x="224.5" y="926.2" width="36.9" height="13" fill="none" stroke-width="1.8"/>
<rect x="887" y="873.3" width="37.3" height="12.9" fill="none" stroke-width="1.8"/>
<rect x="75.8" y="866.7" width="17.2" height="14" fill="none" stroke-width="2"/>
<rect x="79.6" y="869.3" width="9.6" height="8.6" fill="#000" stroke="none"/>
<rect x="150.9" y="866.7" width="17.2" height="14" fill="none" stroke-width="2"/>
<rect x="75.8" y="888.2" width="17.2" height="14" fill="none" stroke-width="2"/>
<rect x="150.9" y="888.2" width="17.2" height="14" fill="none" stroke-width="2"/>
<rect x="75.8" y="909.4" width="17.2" height="14" fill="none" stroke-width="2"/>
<rect x="72.2" y="942.4" width="17.2" height="14" fill="none" stroke-width="2"/>
<rect x="13.5" y="1002.0" width="17.2" height="14" fill="none" stroke-width="2"/>
<rect x="17.3" y="1004.6" width="9.6" height="8.6" fill="#000" stroke="none"/>
<rect x="14.3" y="1029.3" width="17.2" height="14" fill="none" stroke-width="2"/>
<rect x="18.1" y="1031.9" width="9.6" height="8.6" fill="#000" stroke="none"/>
<rect x="130.0" y="1029.3" width="17.2" height="14" fill="none" stroke-width="2"/>
<rect x="282.4" y="864.9" width="17.2" height="14" fill="none" stroke-width="2"/>
<rect x="282.4" y="888.5" width="17.2" height="14" fill="none" stroke-width="2"/>
<rect x="286.2" y="891.1" width="9.6" height="8.6" fill="#000" stroke="none"/>
<rect x="488.2" y="864.7" width="17.2" height="14" fill="none" stroke-width="2"/>
<rect x="488.2" y="888.3" width="17.2" height="14" fill="none" stroke-width="2"/>
<rect x="229.7" y="943.7" width="17.2" height="14" fill="none" stroke-width="2"/>
<rect x="324.4" y="943.7" width="17.2" height="14" fill="none" stroke-width="2"/>
<rect x="300.3" y="979.0" width="17.2" height="14" fill="none" stroke-width="2"/>
<rect x="355.3" y="979.0" width="17.2" height="14" fill="none" stroke-width="2"/>
<rect x="359.1" y="981.6" width="9.6" height="8.6" fill="#000" stroke="none"/>
<rect x="452.6" y="979.0" width="17.2" height="14" fill="none" stroke-width="2"/>
<rect x="456.4" y="981.6" width="9.6" height="8.6" fill="#000" stroke="none"/>
<rect x="498.6" y="979.0" width="17.2" height="14" fill="none" stroke-width="2"/>
<rect x="309.4" y="1038.7" width="17.2" height="14" fill="none" stroke-width="2"/>
<rect x="313.2" y="1041.3" width="9.6" height="8.6" fill="#000" stroke="none"/>
<rect x="414.0" y="1038.7" width="17.2" height="14" fill="none" stroke-width="2"/>
<rect x="520.7" y="1038.7" width="17.2" height="14" fill="none" stroke-width="2"/>
<rect x="623.6" y="898.3" width="17.2" height="14" fill="none" stroke-width="2"/>
<rect x="718.4" y="898.3" width="17.2" height="14" fill="none" stroke-width="2"/>
<rect x="722.2" y="900.9" width="9.6" height="8.6" fill="#000" stroke="none"/>
<rect x="800.3" y="898.3" width="17.2" height="14" fill="none" stroke-width="2"/>
<rect x="918.4" y="898.3" width="17.2" height="14" fill="none" stroke-width="2"/>
<rect x="858.9" y="935.0" width="17.2" height="14" fill="none" stroke-width="2"/>
<rect x="936.9" y="935.0" width="17.2" height="14" fill="none" stroke-width="2"/>
<rect x="664.8" y="973.7" width="17.2" height="14" fill="none" stroke-width="2"/>
<rect x="792.3" y="973.7" width="17.2" height="14" fill="none" stroke-width="2"/>
<rect x="934.4" y="973.7" width="17.2" height="14" fill="none" stroke-width="2"/>
<rect x="938.2" y="976.3" width="9.6" height="8.6" fill="#000" stroke="none"/>
<rect x="652.6" y="1010.4" width="17.2" height="14" fill="none" stroke-width="2"/>
<rect x="656.4" y="1013.0" width="9.6" height="8.6" fill="#000" stroke="none"/>
<rect x="705.5" y="1010.4" width="17.2" height="14" fill="none" stroke-width="2"/>
<rect x="788.1" y="1003.0" width="17.2" height="14" fill="none" stroke-width="2"/>
<rect x="862.4" y="1003.0" width="17.2" height="14" fill="none" stroke-width="2"/>
<rect x="945.7" y="1003.0" width="17.2" height="14" fill="none" stroke-width="2"/>
<rect x="949.5" y="1005.6" width="9.6" height="8.6" fill="#000" stroke="none"/></g>
<g><text x="13.3" y="876.5" font-size="11.29">PRODUCT:</text>
<text x="98.1" y="879.4" font-size="11.30">Door</text>
<text x="173.7" y="879.4" font-size="11.40">Gate</text>
<text x="99.1" y="901" font-size="11.42">Window</text>
<text x="173.7" y="901" font-size="11.37">Railling</text>
<text x="98.5" y="922.2" font-size="11.48">Other</text>
<text x="13.3" y="949.7" font-size="11.09">DESIGN:</text>
<text x="94.2" y="954.4" font-size="11.58">Wrought Iron</text>
<text x="31.8" y="975.2" font-size="11.31">Name:</text>
<text x="101.6" y="993.2" font-size="11.92">or</text>
<text x="34.9" y="1015.2" font-size="11.20">Riva</text>
<text x="82.4" y="1012.9" font-size="11.85">2"X1"</text>
<text x="142.9" y="1015.2" font-size="11.32">#Lites</text>
<text x="189.4" y="1012.9" font-size="11.40">4</text>
<text x="33.8" y="1040.3" font-size="11.63">Standard (1 1/2”)</text>
<text x="150.1" y="1040.3" font-size="11.64">Slim (1 1/4”)</text>
<text x="225.2" y="871.6" font-size="11.00">HANDLE:</text>
<text x="303.3" y="875.1" font-size="10.96">Iron handle:</text>
<text x="303.3" y="886.3" font-size="9.99">(with rollercatch and deadbolt prep)</text>
<text x="304.3" y="901" font-size="11.59">American standard double boring</text>
<text x="512.2" y="878.5" font-size="11.67">Panic hardware</text>
<text x="511.9" y="899" font-size="11.40">Other</text>
<text x="225.2" y="920.6" font-size="11.06">COLOR:</text>
<text x="229.7" y="935.8" font-size="10.43">Black</text>
<text x="273.5" y="935.8" font-size="10.43">Dark ORB</text>
<text x="339" y="935.8" font-size="10.40">Medium ORB</text>
<text x="420" y="935.8" font-size="10.42">Heavy ORB</text>
<text x="493.2" y="935.8" font-size="10.41">Pewter</text>
<text x="543.8" y="935.8" font-size="10.49">Antique gold</text>
<text x="253.9" y="955.4" font-size="10.33">Cerakote</text>
<text x="348.4" y="955.4" font-size="10.39">Custom</text>
<text x="225.8" y="974.6" font-size="11.15">ACTIVE DOOR:</text>
<text x="321.4" y="990.9" font-size="11.44">Right</text>
<text x="376.3" y="990.9" font-size="11.27">Left</text>
<text x="406.3" y="974.6" font-size="11.33">SWING</text>
<text x="473.6" y="990.9" font-size="11.40">In</text>
<text x="520.1" y="990.9" font-size="11.29">Out</text>
<text x="227.2" y="1009.3" font-size="10.87">JAMB:</text>
<text x="286" y="1013.9" font-size="11.40">6"</text>
<text x="336.7" y="1009.3" font-size="10.89">THRESHOLD:</text>
<text x="435.7" y="1013.9" font-size="11.40">6"</text>
<text x="227.2" y="1036.4" font-size="11.05">THRESHOLD:</text>
<text x="330.8" y="1050.2" font-size="11.42">Residential</text>
<text x="435.3" y="1050.2" font-size="11.59">Commercial</text>
<text x="541.7" y="1050.2" font-size="11.76">N/A</text>
<text x="614.7" y="869.6" font-size="11.13">DOOR/ GLASS TYPE:</text>
<text x="634.3" y="884.3" font-size="11.63">Frost</text>
<text x="689.9" y="884.3" font-size="11.45">Aquatex</text>
<text x="761.3" y="884.3" font-size="11.48">Rain</text>
<text x="820.6" y="884.3" font-size="11.48">Flemish</text>
<text x="893.2" y="884.3" font-size="11.51">Clear</text>
<text x="950.7" y="884.3" font-size="11.32">Other</text>
<text x="645.1" y="909.9" font-size="11.35">Operable</text>
<text x="699.1" y="909.9" font-size="11.02">or</text>
<text x="739.7" y="909.9" font-size="11.25">Fixed</text>
<text x="821.2" y="909.9" font-size="11.58">Hurricane film</text>
<text x="942.9" y="909.9" font-size="11.39">Screen</text>
<text x="616.7" y="933.4" font-size="10.89">TRANSOM:</text>
<text x="618.1" y="949.1" font-size="11.48">Glass type:</text>
<text x="741.7" y="933.4" font-size="11.14">SIDELIGHTS:</text>
<text x="741.7" y="949.1" font-size="11.50">Glass type:</text>
<text x="880.5" y="947.1" font-size="11.45">Operable</text>
<text x="958.6" y="947.1" font-size="11.21">Fixed</text>
<text x="623.2" y="970.7" font-size="10.58">TRIM:</text>
<text x="686" y="985.4" font-size="11.17">Inside</text>
<text x="813.7" y="985.4" font-size="11.40">Outside</text>
<text x="955" y="985.4" font-size="11.58">N/A</text>
<text x="615.3" y="1006" font-size="11.05">PACKAGE:</text>
<text x="673.6" y="1022.3" font-size="11.03">Box</text>
<text x="726.6" y="1022.3" font-size="11.46">No box</text>
<text x="809.4" y="1015.2" font-size="11.41">Install</text>
<text x="883.4" y="1015.2" font-size="11.41">Delivery</text>
<text x="966.8" y="1015.2" font-size="11.28">LTL</text>
<text x="615.3" y="1040.3" font-size="11.43">PIECES:</text>
<text x="678.5" y="1048.2" font-size="11.40">2</text>
<text x="718.1" y="1040.3" font-size="11.62">REV:</text>
<text x="761.3" y="1048.2" font-size="11.40">01</text>
<text x="797.8" y="1040" font-size="11.55">DRAWN:</text>
<text x="862.4" y="1048.2" font-size="11.40">ZA</text>
<text x="899.7" y="1040" font-size="11.74">DATE:</text>
<text x="939.7" y="1048.2" font-size="11.51">12/09/22</text>
<text x="164.8" y="919.5" font-size="11">--</text>
<text x="127.2" y="972.5" font-size="11">--</text>
<text x="402.4" y="871.5" font-size="11">--</text>
<text x="698.1" y="949.5" font-size="11">--</text>
<text x="822.6" y="949.5" font-size="11">--</text>
<text x="746.2" y="981.5" font-size="11">--</text>
<text x="880.5" y="981.5" font-size="11">--</text></g>
<text x="12.5" y="814.3" font-size="9.1" textLength="244.8" lengthAdjust="spacing" xml:space="preserve">*Size shown in PO is unit size including frame and threshold.</text>
<text x="12.5" y="823.4" font-size="9.1" textLength="315.1" lengthAdjust="spacing" xml:space="preserve">*Any change once signed and sent to production might result in extra charges.</text>
<text x="12.5" y="833.3" font-size="9.1" textLength="717" lengthAdjust="spacing" xml:space="preserve">Exclusive Iron Doors stands behind the quality of everything we sell and hope you are pleased with your product, if for any reason you are unsatis    ed you can write to one of our</text>
<text x="12.5" y="843.75" font-size="9.1" textLength="755" lengthAdjust="spacing" xml:space="preserve">representatives to verify your situation and determine how can we help you, but we do not accept returns in any of our products.Products are     nal and are not eligible for returns, changes</text>
<text x="12.5" y="854.7" font-size="9.1" textLength="653.2" lengthAdjust="spacing" xml:space="preserve">or alterations.By signing you agree to our terms and conditions, delivery pdf and forms of payment. *Doors measurements do not include the gaps between jambs</text>
<text x="1006.2" y="877.2" font-size="14.4">*Notes:</text>
<text x="1019" y="912.4" font-size="17.4" style="fill:#ec3b2f;stroke:#ec3b2f;stroke-width:0.15px">-Glass thickness:5/8"</text>
<line x1="1255" y1="1025.5" x2="1504" y2="1025.5" stroke="#000" stroke-width="3"/>
<text x="1382.3" y="1049" font-size="18" text-anchor="middle">CUSTOMERS APPROVAL</text>
<g id="logo">
<path d="M209.6,61.6 H216.1 L213.6,65.5 H207.6Z M227.5,61.6 H233.7 L231.2,65.5 H225.3Z M272.6,61.4 H279.2 L276.6,65.3 H270.4Z" fill="#000"/>
<path d="M111.77,53.45 L112.32,53.38 L113.03,53.31 L113.89,53.23 L114.85,53.14 L115.89,53.04 L116.99,52.92 L118.11,52.78 L119.24,52.61 L120.34,52.41 L121.39,52.18 L122.37,51.91 L123.25,51.60 L124.06,51.23 L124.84,50.82 L125.59,50.36 L126.32,49.87 L127.01,49.35 L127.67,48.81 L128.30,48.25 L128.88,47.69 L129.41,47.12 L129.90,46.55 L130.34,45.99 L130.72,45.44 L131.05,44.88 L131.30,44.30 L131.50,43.72 L131.63,43.13 L131.71,42.56 L131.75,41.99 L131.75,41.43 L131.71,40.88 L131.65,40.34 L131.57,39.82 L131.48,39.31 L131.38,38.82 L131.27,38.34 L131.16,37.83 L131.04,37.30 L130.90,36.75 L130.73,36.19 L130.52,35.63 L130.25,35.08 L129.92,34.54 L129.52,34.03 L129.04,33.56 L128.47,33.15 L127.81,32.82 L127.06,32.54 L126.22,32.33 L125.30,32.17 L124.32,32.04 L123.29,31.95 L122.23,31.88 L121.14,31.84 L120.05,31.82 L118.97,31.81 L117.93,31.82 L116.93,31.83 L115.99,31.85 L115.11,31.86 L114.25,31.88 L113.42,31.91 L112.61,31.96 L111.81,32.02 L111.01,32.11 L110.20,32.20 L109.39,32.32 L108.55,32.45 L107.68,32.60 L106.78,32.78 L105.84,32.97 L104.84,33.15 L103.78,33.35 L102.67,33.56 L101.53,33.79 L100.35,34.04 L99.17,34.31 L97.99,34.61 L96.82,34.92 L95.67,35.27 L94.56,35.65 L93.49,36.07 L92.49,36.52 L91.50,36.96 L90.53,37.44 L89.57,37.97 L88.64,38.54 L87.74,39.13 L86.87,39.75 L86.03,40.39 L85.24,41.05 L84.49,41.72 L83.79,42.39 L83.15,43.08 L82.55,43.79 L82.03,44.56 L81.60,45.38 L81.25,46.21 L80.98,47.04 L80.79,47.86 L80.65,48.65 L80.56,49.42 L80.50,50.16 L80.47,50.87 L80.45,51.53 L80.43,52.15 L80.41,52.75 L80.51,53.39 L80.63,54.08 L80.77,54.77 L80.94,55.46 L81.13,56.15 L81.35,56.84 L81.60,57.52 L81.89,58.18 L82.22,58.84 L82.59,59.47 L83.02,60.09 L83.51,60.67 L84.08,61.17 L84.69,61.60 L85.31,61.95 L85.93,62.24 L86.55,62.47 L87.17,62.65 L87.78,62.80 L88.38,62.91 L88.97,63.00 L89.55,63.07 L90.11,63.12 L90.68,63.17 L91.31,63.25 L91.98,63.29 L92.65,63.30 L93.33,63.29 L94.00,63.25 L94.66,63.20 L95.28,63.15 L95.87,63.09 L96.40,63.03 L96.87,62.98 L97.24,62.93 L97.54,62.90 L97.46,60.10 L97.13,60.08 L96.70,60.08 L96.22,60.09 L95.69,60.10 L95.12,60.10 L94.53,60.11 L93.93,60.10 L93.34,60.09 L92.76,60.05 L92.22,60.00 L91.75,59.93 L91.32,59.83 L90.88,59.66 L90.42,59.48 L89.97,59.29 L89.54,59.09 L89.14,58.88 L88.77,58.66 L88.43,58.43 L88.14,58.21 L87.90,57.98 L87.72,57.75 L87.58,57.54 L87.49,57.33 L87.39,57.12 L87.27,56.85 L87.15,56.52 L87.04,56.15 L86.93,55.74 L86.84,55.29 L86.76,54.81 L86.69,54.32 L86.64,53.81 L86.61,53.30 L86.59,52.78 L86.59,52.25 L86.48,51.67 L86.36,51.09 L86.26,50.52 L86.17,49.99 L86.09,49.47 L86.04,48.97 L86.01,48.50 L86.02,48.04 L86.06,47.59 L86.13,47.14 L86.26,46.69 L86.45,46.21 L86.72,45.65 L87.07,45.02 L87.49,44.36 L87.99,43.68 L88.53,42.98 L89.13,42.28 L89.78,41.59 L90.47,40.92 L91.19,40.26 L91.94,39.63 L92.72,39.03 L93.51,38.48 L94.38,38.02 L95.32,37.59 L96.34,37.18 L97.41,36.80 L98.51,36.44 L99.64,36.10 L100.78,35.78 L101.92,35.48 L103.04,35.20 L104.13,34.93 L105.17,34.68 L106.16,34.43 L107.08,34.23 L107.96,34.04 L108.80,33.88 L109.61,33.73 L110.40,33.61 L111.18,33.49 L111.95,33.40 L112.72,33.32 L113.51,33.26 L114.31,33.21 L115.14,33.17 L116.01,33.15 L116.94,33.15 L117.93,33.15 L118.96,33.16 L120.02,33.19 L121.09,33.22 L122.15,33.28 L123.18,33.36 L124.16,33.46 L125.07,33.60 L125.90,33.76 L126.61,33.96 L127.19,34.18 L127.65,34.44 L128.03,34.74 L128.34,35.07 L128.59,35.43 L128.81,35.82 L128.98,36.24 L129.13,36.70 L129.25,37.17 L129.35,37.67 L129.44,38.17 L129.53,38.68 L129.62,39.18 L129.72,39.66 L129.82,40.12 L129.89,40.59 L129.95,41.05 L129.99,41.50 L130.00,41.95 L129.98,42.39 L129.92,42.83 L129.83,43.26 L129.70,43.69 L129.52,44.12 L129.28,44.56 L128.98,45.03 L128.62,45.54 L128.20,46.07 L127.74,46.61 L127.23,47.15 L126.68,47.69 L126.09,48.22 L125.47,48.72 L124.82,49.20 L124.14,49.64 L123.45,50.05 L122.75,50.40 L121.97,50.71 L121.08,50.99 L120.09,51.24 L119.03,51.46 L117.94,51.66 L116.84,51.83 L115.76,51.98 L114.73,52.12 L113.78,52.24 L112.92,52.35 L112.20,52.45 L111.63,52.55Z" fill="#000"/>
<path d="M84.30,60.86 L83.70,60.96 L82.94,61.08 L82.03,61.21 L81.01,61.36 L79.90,61.52 L78.73,61.71 L77.52,61.91 L76.30,62.13 L75.10,62.37 L73.93,62.64 L72.83,62.92 L71.81,63.23 L70.85,63.51 L69.92,63.81 L69.00,64.12 L68.10,64.46 L67.21,64.82 L66.33,65.20 L65.46,65.60 L64.61,66.03 L63.76,66.48 L62.92,66.96 L62.09,67.46 L61.26,67.99 L60.38,68.50 L59.49,69.05 L58.58,69.63 L57.68,70.25 L56.78,70.89 L55.89,71.56 L55.02,72.25 L54.17,72.97 L53.36,73.71 L52.58,74.47 L51.84,75.25 L51.16,76.05 L50.59,76.92 L50.08,77.81 L49.62,78.71 L49.21,79.62 L48.86,80.54 L48.55,81.45 L48.28,82.36 L48.05,83.27 L47.87,84.16 L47.71,85.04 L47.59,85.90 L47.50,86.75 L47.55,87.61 L47.63,88.49 L47.75,89.36 L47.92,90.23 L48.12,91.09 L48.37,91.94 L48.66,92.77 L48.99,93.58 L49.38,94.38 L49.83,95.14 L50.34,95.87 L50.94,96.57 L51.68,97.15 L52.46,97.62 L53.25,97.98 L54.03,98.26 L54.81,98.47 L55.58,98.62 L56.33,98.73 L57.07,98.81 L57.79,98.87 L58.50,98.90 L59.19,98.93 L59.87,98.96 L60.55,99.05 L61.25,99.11 L61.96,99.16 L62.66,99.20 L63.38,99.21 L64.10,99.22 L64.83,99.20 L65.56,99.17 L66.31,99.12 L67.07,99.06 L67.84,98.99 L68.62,98.90 L69.41,98.86 L70.21,98.81 L71.01,98.75 L71.83,98.68 L72.66,98.60 L73.51,98.50 L74.38,98.37 L75.27,98.23 L76.20,98.05 L77.15,97.85 L78.13,97.61 L79.14,97.33 L80.21,97.03 L81.33,96.70 L82.49,96.35 L83.69,95.96 L84.92,95.54 L86.17,95.10 L87.42,94.64 L88.67,94.15 L89.91,93.64 L91.13,93.11 L92.31,92.56 L93.45,91.99 L94.58,91.39 L95.71,90.76 L96.85,90.10 L97.99,89.41 L99.11,88.70 L100.21,87.97 L101.29,87.23 L102.32,86.49 L103.30,85.73 L104.23,84.98 L105.09,84.23 L105.89,83.49 L106.61,82.74 L107.29,81.97 L107.92,81.18 L108.50,80.38 L109.03,79.57 L109.51,78.77 L109.94,77.98 L110.32,77.21 L110.65,76.47 L110.93,75.75 L111.15,75.07 L111.33,74.43 L111.46,73.82 L111.53,73.22 L111.54,72.64 L111.50,72.09 L111.40,71.55 L111.24,71.05 L111.03,70.57 L110.78,70.12 L110.47,69.70 L110.12,69.32 L109.74,68.96 L109.31,68.64 L108.83,68.35 L108.30,68.09 L107.72,67.86 L107.10,67.66 L106.44,67.48 L105.75,67.34 L105.02,67.23 L104.27,67.14 L103.49,67.10 L102.69,67.08 L101.88,67.10 L101.05,67.15 L100.20,67.24 L99.29,67.37 L98.34,67.53 L97.36,67.73 L96.36,67.96 L95.34,68.21 L94.32,68.50 L93.30,68.81 L92.29,69.15 L91.31,69.51 L90.37,69.90 L89.46,70.31 L88.56,70.77 L87.63,71.31 L86.71,71.90 L85.79,72.54 L84.89,73.21 L84.02,73.87 L83.19,74.53 L82.41,75.15 L81.70,75.73 L81.07,76.24 L80.54,76.66 L80.10,76.98 L80.90,78.02 L81.34,77.67 L81.88,77.22 L82.50,76.69 L83.20,76.11 L83.95,75.47 L84.76,74.81 L85.60,74.15 L86.47,73.49 L87.35,72.85 L88.23,72.27 L89.10,71.74 L89.94,71.29 L90.80,70.91 L91.71,70.54 L92.66,70.19 L93.64,69.86 L94.63,69.55 L95.62,69.28 L96.61,69.03 L97.59,68.80 L98.54,68.62 L99.46,68.46 L100.33,68.34 L101.15,68.25 L101.92,68.20 L102.69,68.18 L103.44,68.19 L104.17,68.24 L104.88,68.32 L105.55,68.42 L106.19,68.55 L106.79,68.71 L107.35,68.89 L107.85,69.10 L108.30,69.32 L108.69,69.56 L109.04,69.81 L109.35,70.09 L109.62,70.40 L109.85,70.72 L110.05,71.06 L110.21,71.43 L110.33,71.82 L110.41,72.23 L110.44,72.67 L110.43,73.14 L110.38,73.64 L110.27,74.17 L110.10,74.75 L109.89,75.37 L109.63,76.05 L109.32,76.75 L108.96,77.48 L108.55,78.23 L108.10,78.99 L107.60,79.75 L107.05,80.51 L106.45,81.26 L105.81,82.00 L105.11,82.71 L104.36,83.41 L103.52,84.14 L102.62,84.87 L101.66,85.60 L100.65,86.34 L99.60,87.06 L98.52,87.78 L97.41,88.48 L96.29,89.15 L95.17,89.81 L94.05,90.43 L92.95,91.01 L91.83,91.57 L90.67,92.11 L89.48,92.63 L88.26,93.13 L87.03,93.61 L85.79,94.07 L84.56,94.51 L83.35,94.91 L82.16,95.30 L81.01,95.65 L79.90,95.98 L78.86,96.27 L77.86,96.51 L76.90,96.72 L75.98,96.90 L75.08,97.04 L74.21,97.16 L73.37,97.25 L72.54,97.33 L71.73,97.39 L70.93,97.43 L70.14,97.46 L69.36,97.48 L68.58,97.50 L67.81,97.46 L67.07,97.40 L66.34,97.32 L65.64,97.24 L64.95,97.14 L64.28,97.02 L63.62,96.89 L62.98,96.75 L62.35,96.59 L61.74,96.42 L61.14,96.24 L60.53,96.04 L59.92,95.77 L59.29,95.50 L58.69,95.22 L58.10,94.95 L57.55,94.66 L57.05,94.37 L56.60,94.07 L56.22,93.76 L55.91,93.46 L55.68,93.16 L55.54,92.89 L55.46,92.63 L55.33,92.38 L55.17,92.06 L55.02,91.68 L54.88,91.25 L54.75,90.78 L54.65,90.26 L54.56,89.72 L54.50,89.16 L54.46,88.58 L54.45,88.00 L54.46,87.42 L54.50,86.85 L54.46,86.25 L54.44,85.61 L54.44,84.96 L54.47,84.29 L54.53,83.62 L54.62,82.94 L54.73,82.25 L54.88,81.57 L55.07,80.90 L55.29,80.24 L55.54,79.58 L55.84,78.95 L56.14,78.26 L56.53,77.53 L56.98,76.78 L57.50,76.00 L58.07,75.21 L58.68,74.43 L59.32,73.64 L59.99,72.87 L60.68,72.12 L61.37,71.38 L62.06,70.68 L62.74,70.01 L63.46,69.42 L64.18,68.86 L64.92,68.32 L65.66,67.81 L66.41,67.31 L67.18,66.84 L67.97,66.38 L68.77,65.95 L69.59,65.53 L70.44,65.13 L71.30,64.74 L72.19,64.37 L73.15,64.07 L74.21,63.78 L75.35,63.52 L76.53,63.28 L77.73,63.05 L78.92,62.84 L80.08,62.65 L81.18,62.48 L82.20,62.32 L83.11,62.18 L83.88,62.05 L84.50,61.94Z" fill="#000"/>
<path d="M80.00,77.08 L79.60,77.40 L79.09,77.81 L78.49,78.31 L77.81,78.88 L77.09,79.52 L76.34,80.21 L75.57,80.94 L74.80,81.70 L74.05,82.48 L73.35,83.29 L72.69,84.11 L72.11,84.93 L71.67,85.78 L71.28,86.64 L70.93,87.51 L70.61,88.40 L70.33,89.29 L70.08,90.18 L69.86,91.07 L69.67,91.96 L69.51,92.83 L69.38,93.68 L69.28,94.51 L69.20,95.32 L69.23,96.12 L69.29,96.90 L69.39,97.66 L69.52,98.40 L69.68,99.12 L69.87,99.83 L70.09,100.52 L70.33,101.19 L70.61,101.86 L70.91,102.51 L71.24,103.16 L71.58,103.79 L71.97,104.41 L72.38,105.02 L72.81,105.62 L73.26,106.22 L73.74,106.80 L74.25,107.39 L74.79,107.96 L75.36,108.53 L75.98,109.09 L76.63,109.65 L77.32,110.21 L78.06,110.77 L78.89,111.37 L79.83,111.99 L80.87,112.63 L81.96,113.28 L83.09,113.93 L84.22,114.56 L85.33,115.16 L86.40,115.73 L87.38,116.25 L88.25,116.71 L88.99,117.09 L89.57,117.38 L90.03,116.62 L89.50,116.24 L88.80,115.77 L87.97,115.23 L87.03,114.64 L86.02,113.99 L84.97,113.32 L83.89,112.61 L82.83,111.90 L81.82,111.19 L80.87,110.50 L80.04,109.84 L79.34,109.23 L78.75,108.63 L78.20,108.03 L77.71,107.43 L77.26,106.85 L76.85,106.27 L76.48,105.69 L76.14,105.11 L75.83,104.54 L75.55,103.96 L75.28,103.38 L75.04,102.80 L74.82,102.21 L74.59,101.63 L74.39,101.07 L74.22,100.52 L74.07,99.98 L73.95,99.44 L73.86,98.90 L73.79,98.36 L73.74,97.81 L73.72,97.25 L73.72,96.68 L73.75,96.09 L73.80,95.48 L73.80,94.82 L73.82,94.12 L73.87,93.39 L73.95,92.64 L74.05,91.88 L74.17,91.10 L74.33,90.33 L74.51,89.56 L74.71,88.80 L74.95,88.06 L75.21,87.34 L75.49,86.67 L75.76,85.97 L76.13,85.20 L76.59,84.39 L77.11,83.56 L77.67,82.72 L78.25,81.89 L78.83,81.09 L79.39,80.32 L79.90,79.61 L80.35,78.97 L80.73,78.39 L81.00,77.92Z" fill="#000"/>
<path d="M117.17,74.66 L117.70,74.27 L118.37,73.75 L119.17,73.14 L120.07,72.46 L121.03,71.72 L122.05,70.95 L123.09,70.16 L124.13,69.39 L125.14,68.64 L126.10,67.95 L126.99,67.34 L127.77,66.82 L128.49,66.37 L129.16,65.95 L129.81,65.56 L130.43,65.20 L131.02,64.88 L131.59,64.59 L132.13,64.32 L132.66,64.09 L133.17,63.88 L133.67,63.71 L134.15,63.56 L134.62,63.44 L135.08,63.37 L135.53,63.35 L135.98,63.38 L136.43,63.43 L136.87,63.51 L137.30,63.62 L137.71,63.73 L138.10,63.85 L138.46,63.97 L138.80,64.08 L139.11,64.17 L139.37,64.24 L139.63,62.76 L139.42,62.74 L139.16,62.69 L138.84,62.62 L138.46,62.53 L138.04,62.44 L137.58,62.35 L137.09,62.27 L136.57,62.21 L136.04,62.18 L135.49,62.19 L134.93,62.25 L134.38,62.36 L133.84,62.51 L133.32,62.68 L132.78,62.88 L132.24,63.11 L131.68,63.37 L131.11,63.65 L130.53,63.96 L129.92,64.31 L129.29,64.68 L128.63,65.08 L127.95,65.52 L127.23,65.98 L126.43,66.52 L125.53,67.15 L124.57,67.86 L123.55,68.61 L122.51,69.40 L121.47,70.19 L120.46,70.97 L119.50,71.72 L118.61,72.41 L117.82,73.03 L117.15,73.54 L116.63,73.94Z" fill="#000"/>
<path d="M138.90,62.70 L138.45,62.88 L137.92,63.10 L137.29,63.37 L136.57,63.70 L135.79,64.08 L134.95,64.52 L134.07,65.01 L133.16,65.56 L132.24,66.17 L131.32,66.86 L130.42,67.61 L129.55,68.44 L128.79,69.40 L128.04,70.44 L127.29,71.56 L126.55,72.73 L125.81,73.94 L125.09,75.17 L124.39,76.39 L123.72,77.60 L123.09,78.75 L122.50,79.85 L121.97,80.86 L121.49,81.76 L121.13,82.65 L120.81,83.49 L120.53,84.30 L120.28,85.07 L120.07,85.80 L119.89,86.50 L119.74,87.17 L119.63,87.81 L119.54,88.42 L119.50,89.00 L119.48,89.56 L119.50,90.08 L119.61,90.56 L119.74,91.02 L119.90,91.48 L120.13,91.92 L120.43,92.35 L120.82,92.72 L121.27,92.99 L121.74,93.14 L122.21,93.18 L122.65,93.13 L123.10,93.04 L123.56,92.90 L124.08,92.82 L124.68,92.69 L125.33,92.52 L126.04,92.31 L126.78,92.06 L127.56,91.78 L128.36,91.48 L129.16,91.15 L129.96,90.81 L130.75,90.46 L131.51,90.11 L132.23,89.75 L132.95,89.36 L133.71,88.92 L134.49,88.43 L135.28,87.92 L136.06,87.40 L136.82,86.87 L137.55,86.36 L138.24,85.87 L138.87,85.41 L139.43,85.01 L139.90,84.67 L140.28,84.41 L139.72,83.59 L139.33,83.85 L138.84,84.20 L138.28,84.60 L137.65,85.05 L136.97,85.54 L136.24,86.05 L135.49,86.57 L134.72,87.09 L133.95,87.59 L133.20,88.06 L132.47,88.49 L131.77,88.85 L131.07,89.19 L130.33,89.52 L129.55,89.85 L128.76,90.16 L127.97,90.46 L127.19,90.74 L126.43,91.00 L125.71,91.22 L125.03,91.41 L124.42,91.55 L123.88,91.65 L123.44,91.70 L123.09,91.60 L122.82,91.48 L122.67,91.33 L122.63,91.20 L122.69,91.10 L122.81,91.05 L122.94,91.04 L123.06,91.01 L123.16,90.93 L123.26,90.78 L123.37,90.58 L123.50,90.32 L123.59,90.04 L123.70,89.73 L123.84,89.37 L124.00,88.98 L124.20,88.54 L124.43,88.06 L124.69,87.54 L124.98,86.97 L125.31,86.35 L125.67,85.70 L126.07,84.99 L126.51,84.24 L126.93,83.34 L127.41,82.34 L127.93,81.26 L128.50,80.11 L129.10,78.94 L129.72,77.74 L130.36,76.56 L131.01,75.40 L131.65,74.30 L132.29,73.27 L132.89,72.35 L133.45,71.56 L133.93,70.81 L134.47,70.07 L135.06,69.36 L135.69,68.66 L136.34,67.99 L136.99,67.36 L137.63,66.76 L138.24,66.19 L138.81,65.66 L139.33,65.17 L139.77,64.71 L140.10,64.30Z" fill="#000"/>
<path d="M103.85,91.50 L104.16,91.47 L104.53,91.44 L104.96,91.42 L105.45,91.39 L105.99,91.36 L106.57,91.32 L107.20,91.26 L107.88,91.18 L108.59,91.08 L109.34,90.95 L110.12,90.78 L110.93,90.58 L111.77,90.36 L112.67,90.11 L113.62,89.85 L114.61,89.57 L115.65,89.26 L116.72,88.92 L117.81,88.56 L118.91,88.16 L120.02,87.74 L121.13,87.28 L122.24,86.78 L123.33,86.25 L124.42,85.66 L125.53,85.03 L126.67,84.36 L127.81,83.65 L128.96,82.91 L130.11,82.14 L131.25,81.35 L132.38,80.56 L133.49,79.76 L134.56,78.96 L135.61,78.17 L136.61,77.39 L137.59,76.60 L138.55,75.77 L139.49,74.92 L140.41,74.05 L141.30,73.19 L142.18,72.32 L143.02,71.48 L143.84,70.66 L144.64,69.88 L145.40,69.15 L146.13,68.48 L146.82,67.88 L147.50,67.34 L148.16,66.83 L148.81,66.37 L149.43,65.94 L150.03,65.54 L150.60,65.18 L151.14,64.85 L151.64,64.55 L152.09,64.28 L152.51,64.04 L152.87,63.82 L153.17,63.62 L152.63,62.78 L152.34,62.97 L151.99,63.18 L151.58,63.42 L151.13,63.69 L150.62,64.00 L150.07,64.33 L149.49,64.70 L148.87,65.11 L148.23,65.55 L147.56,66.03 L146.88,66.55 L146.18,67.12 L145.46,67.74 L144.71,68.43 L143.94,69.17 L143.14,69.95 L142.32,70.77 L141.47,71.61 L140.61,72.47 L139.72,73.33 L138.81,74.19 L137.89,75.02 L136.95,75.83 L135.99,76.61 L135.00,77.38 L133.96,78.16 L132.89,78.95 L131.80,79.75 L130.68,80.53 L129.55,81.31 L128.41,82.07 L127.28,82.80 L126.15,83.51 L125.03,84.17 L123.94,84.79 L122.87,85.35 L121.81,85.87 L120.74,86.36 L119.65,86.81 L118.56,87.22 L117.48,87.61 L116.41,87.97 L115.36,88.30 L114.33,88.61 L113.35,88.89 L112.40,89.15 L111.51,89.39 L110.67,89.62 L109.90,89.81 L109.15,89.97 L108.43,90.09 L107.75,90.19 L107.10,90.26 L106.49,90.32 L105.92,90.36 L105.39,90.39 L104.91,90.42 L104.47,90.44 L104.08,90.47 L103.75,90.50Z" fill="#000"/>
<path d="M172.62,70.10 L172.83,70.05 L173.12,70.01 L173.50,69.97 L173.94,69.95 L174.43,69.92 L174.94,69.88 L175.47,69.83 L175.99,69.76 L176.51,69.66 L177.00,69.53 L177.46,69.35 L177.86,69.10 L178.21,68.83 L178.50,68.53 L178.76,68.19 L178.98,67.83 L179.18,67.44 L179.34,67.05 L179.47,66.64 L179.56,66.24 L179.62,65.83 L179.64,65.43 L179.61,65.04 L179.53,64.67 L179.42,64.32 L179.27,63.98 L179.08,63.64 L178.86,63.30 L178.60,62.97 L178.31,62.66 L177.98,62.36 L177.62,62.08 L177.24,61.83 L176.82,61.62 L176.38,61.44 L175.91,61.31 L175.43,61.20 L174.93,61.11 L174.39,61.06 L173.82,61.03 L173.22,61.02 L172.60,61.05 L171.97,61.10 L171.31,61.17 L170.64,61.28 L169.96,61.40 L169.26,61.56 L168.57,61.73 L167.84,61.85 L167.08,61.99 L166.30,62.15 L165.49,62.33 L164.66,62.54 L163.81,62.79 L162.94,63.07 L162.06,63.38 L161.16,63.74 L160.26,64.15 L159.36,64.60 L158.45,65.11 L157.56,65.69 L156.65,66.32 L155.73,67.01 L154.79,67.74 L153.86,68.51 L152.93,69.30 L152.02,70.11 L151.13,70.94 L150.27,71.77 L149.44,72.60 L148.66,73.42 L147.92,74.24 L147.34,75.13 L146.78,76.03 L146.25,76.95 L145.75,77.87 L145.29,78.78 L144.87,79.70 L144.49,80.61 L144.14,81.50 L143.84,82.38 L143.59,83.24 L143.39,84.08 L143.25,84.93 L143.22,85.81 L143.29,86.68 L143.45,87.49 L143.67,88.23 L143.94,88.91 L144.25,89.53 L144.59,90.08 L144.93,90.58 L145.27,91.02 L145.60,91.40 L145.92,91.73 L146.20,92.00 L146.45,92.26 L146.70,92.50 L146.97,92.72 L147.27,92.92 L147.61,93.07 L147.97,93.16 L148.32,93.17 L148.65,93.14 L148.98,93.07 L149.31,92.98 L149.67,92.87 L150.09,92.74 L150.56,92.66 L151.08,92.56 L151.63,92.43 L152.22,92.28 L152.85,92.11 L153.51,91.91 L154.20,91.69 L154.93,91.44 L155.68,91.16 L156.46,90.85 L157.27,90.52 L158.10,90.16 L158.97,89.78 L159.88,89.37 L160.84,88.94 L161.83,88.49 L162.86,88.01 L163.91,87.50 L164.98,86.96 L166.06,86.38 L167.15,85.77 L168.24,85.12 L169.32,84.44 L170.39,83.71 L171.44,82.93 L172.48,82.10 L173.50,81.22 L174.53,80.30 L175.55,79.35 L176.58,78.38 L177.63,77.39 L178.70,76.39 L179.79,75.38 L180.92,74.37 L182.09,73.38 L183.31,72.39 L184.59,71.40 L185.94,70.39 L187.34,69.36 L188.79,68.32 L190.26,67.27 L191.76,66.22 L193.26,65.17 L194.76,64.12 L196.24,63.09 L197.70,62.07 L199.12,61.08 L200.49,60.11 L201.83,59.16 L203.16,58.22 L204.49,57.29 L205.81,56.38 L207.11,55.47 L208.39,54.58 L209.65,53.70 L210.89,52.83 L212.09,51.98 L213.27,51.14 L214.40,50.31 L215.50,49.50 L216.57,48.70 L217.62,47.91 L218.66,47.13 L219.68,46.36 L220.66,45.60 L221.62,44.86 L222.53,44.13 L223.39,43.43 L224.20,42.74 L224.95,42.09 L225.64,41.45 L226.26,40.85 L226.80,40.28 L227.28,39.73 L227.71,39.21 L228.07,38.71 L228.38,38.24 L228.64,37.78 L228.86,37.33 L229.02,36.90 L229.15,36.48 L229.24,36.08 L229.28,35.68 L229.30,35.29 L229.26,34.87 L229.14,34.45 L228.96,34.07 L228.73,33.70 L228.46,33.37 L228.16,33.06 L227.83,32.78 L227.48,32.53 L227.12,32.31 L226.76,32.12 L226.39,31.97 L226.01,31.86 L225.59,31.77 L225.14,31.75 L224.67,31.79 L224.20,31.86 L223.72,31.97 L223.26,32.09 L222.80,32.22 L222.38,32.35 L221.99,32.47 L221.66,32.56 L221.39,32.62 L221.19,32.65 L221.81,34.55 L222.04,34.43 L222.34,34.28 L222.66,34.11 L223.01,33.93 L223.39,33.74 L223.78,33.55 L224.18,33.37 L224.56,33.22 L224.93,33.09 L225.27,33.00 L225.55,32.95 L225.79,32.94 L226.03,33.01 L226.32,33.11 L226.61,33.25 L226.90,33.42 L227.19,33.62 L227.45,33.84 L227.69,34.07 L227.90,34.32 L228.07,34.57 L228.20,34.82 L228.27,35.06 L228.30,35.31 L228.29,35.60 L228.25,35.91 L228.18,36.23 L228.08,36.57 L227.94,36.93 L227.76,37.31 L227.53,37.72 L227.25,38.14 L226.91,38.60 L226.52,39.09 L226.07,39.60 L225.54,40.15 L224.95,40.73 L224.28,41.34 L223.55,41.98 L222.75,42.66 L221.90,43.35 L221.00,44.07 L220.05,44.81 L219.07,45.56 L218.06,46.33 L217.02,47.11 L215.97,47.90 L214.90,48.70 L213.81,49.50 L212.68,50.33 L211.51,51.16 L210.31,52.01 L209.08,52.88 L207.82,53.76 L206.54,54.65 L205.24,55.56 L203.92,56.47 L202.59,57.40 L201.25,58.34 L199.91,59.29 L198.54,60.26 L197.12,61.25 L195.67,62.27 L194.18,63.30 L192.69,64.35 L191.18,65.40 L189.68,66.45 L188.21,67.50 L186.75,68.55 L185.35,69.59 L183.99,70.61 L182.69,71.61 L181.45,72.61 L180.26,73.62 L179.12,74.64 L178.02,75.66 L176.94,76.66 L175.89,77.66 L174.87,78.62 L173.85,79.56 L172.85,80.47 L171.84,81.33 L170.83,82.14 L169.81,82.89 L168.77,83.60 L167.71,84.27 L166.65,84.90 L165.58,85.50 L164.52,86.07 L163.47,86.60 L162.43,87.11 L161.41,87.58 L160.43,88.03 L159.47,88.46 L158.56,88.86 L157.70,89.24 L156.88,89.59 L156.09,89.91 L155.32,90.20 L154.58,90.46 L153.88,90.70 L153.20,90.90 L152.56,91.09 L151.96,91.25 L151.39,91.38 L150.86,91.49 L150.37,91.59 L149.91,91.66 L149.51,91.65 L149.16,91.63 L148.89,91.59 L148.69,91.54 L148.58,91.47 L148.54,91.39 L148.55,91.33 L148.58,91.28 L148.58,91.19 L148.56,91.06 L148.49,90.86 L148.40,90.60 L148.30,90.26 L148.19,89.89 L148.08,89.49 L147.98,89.08 L147.89,88.65 L147.82,88.22 L147.78,87.79 L147.78,87.38 L147.82,86.98 L147.89,86.60 L148.00,86.24 L148.15,85.87 L148.32,85.41 L148.54,84.86 L148.80,84.25 L149.12,83.60 L149.47,82.93 L149.87,82.22 L150.30,81.51 L150.76,80.79 L151.26,80.06 L151.78,79.35 L152.32,78.65 L152.88,77.96 L153.37,77.19 L153.93,76.38 L154.54,75.54 L155.20,74.69 L155.90,73.83 L156.62,72.97 L157.35,72.13 L158.10,71.32 L158.84,70.54 L159.57,69.80 L160.27,69.11 L160.95,68.49 L161.59,67.91 L162.24,67.36 L162.91,66.83 L163.59,66.34 L164.28,65.88 L164.98,65.44 L165.68,65.02 L166.37,64.63 L167.06,64.26 L167.73,63.91 L168.40,63.58 L169.03,63.27 L169.68,63.05 L170.31,62.86 L170.93,62.70 L171.55,62.55 L172.15,62.43 L172.73,62.34 L173.30,62.27 L173.83,62.23 L174.35,62.21 L174.83,62.21 L175.28,62.24 L175.69,62.29 L176.05,62.39 L176.39,62.54 L176.72,62.71 L177.02,62.92 L177.30,63.15 L177.56,63.39 L177.79,63.65 L177.99,63.92 L178.16,64.19 L178.30,64.45 L178.40,64.70 L178.47,64.93 L178.49,65.15 L178.49,65.40 L178.45,65.68 L178.39,65.98 L178.29,66.28 L178.17,66.59 L178.03,66.88 L177.87,67.16 L177.69,67.41 L177.50,67.62 L177.31,67.79 L177.14,67.90 L176.93,67.94 L176.65,67.97 L176.29,67.98 L175.88,67.96 L175.43,67.93 L174.97,67.88 L174.50,67.82 L174.05,67.75 L173.62,67.68 L173.22,67.61 L172.86,67.55 L172.58,67.50Z" fill="#000"/>
<path d="M220.77,32.92 L220.18,33.34 L219.50,33.86 L218.74,34.46 L217.90,35.14 L216.99,35.91 L216.01,36.75 L214.96,37.66 L213.85,38.64 L212.69,39.68 L211.47,40.77 L210.20,41.93 L208.88,43.13 L207.54,44.48 L206.10,45.96 L204.55,47.54 L202.94,49.20 L201.26,50.93 L199.55,52.69 L197.82,54.48 L196.08,56.27 L194.36,58.03 L192.67,59.76 L191.03,61.42 L189.46,62.99 L187.98,64.60 L186.46,66.23 L184.92,67.87 L183.36,69.51 L181.81,71.14 L180.29,72.74 L178.82,74.29 L177.41,75.79 L176.08,77.23 L174.84,78.59 L173.73,79.86 L172.74,81.03 L171.93,82.14 L171.25,83.16 L170.68,84.08 L170.21,84.94 L169.83,85.72 L169.53,86.45 L169.29,87.11 L169.12,87.72 L168.99,88.27 L168.90,88.77 L168.84,89.21 L168.78,89.64 L168.72,90.05 L168.66,90.46 L168.62,90.85 L168.60,91.25 L168.61,91.68 L168.70,92.14 L168.92,92.63 L169.31,93.02 L169.75,93.21 L170.17,93.26 L170.57,93.22 L170.99,93.15 L171.48,93.14 L172.06,93.10 L172.72,93.02 L173.45,92.92 L174.24,92.78 L175.08,92.61 L175.94,92.42 L176.83,92.19 L177.72,91.93 L178.60,91.64 L179.47,91.31 L180.31,90.95 L181.16,90.53 L182.07,90.03 L183.02,89.46 L183.98,88.84 L184.95,88.19 L185.91,87.53 L186.83,86.88 L187.70,86.25 L188.50,85.68 L189.20,85.16 L189.81,84.74 L190.28,84.41 L189.72,83.59 L189.23,83.92 L188.62,84.35 L187.91,84.87 L187.11,85.44 L186.25,86.06 L185.33,86.71 L184.39,87.36 L183.43,88.00 L182.49,88.61 L181.57,89.16 L180.70,89.65 L179.89,90.05 L179.10,90.37 L178.27,90.68 L177.42,90.95 L176.56,91.19 L175.70,91.40 L174.86,91.59 L174.05,91.74 L173.29,91.86 L172.59,91.95 L171.97,92.02 L171.43,92.05 L171.01,92.05 L170.71,91.93 L170.53,91.80 L170.51,91.69 L170.65,91.67 L170.85,91.79 L170.99,91.94 L171.09,91.99 L171.20,91.95 L171.35,91.81 L171.54,91.59 L171.77,91.31 L172.02,90.96 L172.28,90.59 L172.54,90.22 L172.80,89.87 L173.06,89.52 L173.35,89.16 L173.67,88.77 L174.05,88.33 L174.50,87.82 L175.03,87.25 L175.66,86.59 L176.40,85.83 L177.26,84.97 L178.23,83.95 L179.34,82.80 L180.59,81.55 L181.95,80.21 L183.40,78.79 L184.92,77.30 L186.49,75.77 L188.11,74.20 L189.73,72.60 L191.36,71.00 L192.97,69.39 L194.54,67.81 L196.04,66.12 L197.60,64.36 L199.21,62.54 L200.85,60.68 L202.50,58.81 L204.15,56.93 L205.77,55.08 L207.35,53.27 L208.87,51.52 L210.32,49.86 L211.67,48.30 L212.92,46.87 L214.02,45.47 L215.07,44.12 L216.08,42.82 L217.03,41.59 L217.92,40.41 L218.75,39.30 L219.52,38.26 L220.22,37.30 L220.84,36.42 L221.39,35.62 L221.85,34.90 L222.23,34.28Z" fill="#000"/>
<path d="M210.59,59.98 L210.06,60.69 L209.39,61.58 L208.59,62.63 L207.70,63.80 L206.73,65.07 L205.71,66.42 L204.65,67.81 L203.57,69.22 L202.50,70.62 L201.46,71.99 L200.47,73.29 L199.55,74.50 L198.69,75.71 L197.80,76.97 L196.87,78.25 L195.94,79.54 L195.00,80.82 L194.09,82.08 L193.22,83.31 L192.40,84.48 L191.64,85.58 L190.97,86.61 L190.40,87.53 L189.94,88.34 L189.61,89.04 L189.35,89.65 L189.16,90.19 L189.03,90.69 L188.96,91.18 L188.99,91.75 L189.28,92.40 L189.83,92.82 L190.33,92.89 L190.72,92.83 L191.08,92.73 L191.47,92.60 L191.97,92.51 L192.56,92.37 L193.25,92.19 L194.01,91.95 L194.84,91.67 L195.71,91.35 L196.62,90.99 L197.55,90.60 L198.48,90.17 L199.41,89.72 L200.30,89.23 L201.16,88.73 L202.04,88.16 L202.96,87.49 L203.93,86.75 L204.91,85.95 L205.90,85.13 L206.87,84.30 L207.81,83.48 L208.69,82.70 L209.50,81.97 L210.23,81.33 L210.84,80.79 L211.32,80.38 L210.68,79.62 L210.18,80.04 L209.56,80.58 L208.84,81.23 L208.03,81.95 L207.15,82.73 L206.22,83.54 L205.25,84.37 L204.28,85.18 L203.31,85.96 L202.37,86.69 L201.47,87.33 L200.64,87.87 L199.81,88.35 L198.94,88.80 L198.04,89.22 L197.13,89.62 L196.22,89.99 L195.33,90.32 L194.47,90.62 L193.67,90.87 L192.94,91.08 L192.29,91.24 L191.75,91.35 L191.33,91.40 L190.99,91.34 L190.75,91.25 L190.66,91.15 L190.80,91.11 L191.14,91.32 L191.34,91.66 L191.43,91.80 L191.55,91.74 L191.76,91.54 L192.05,91.21 L192.42,90.78 L192.86,90.26 L193.38,89.61 L194.03,88.84 L194.78,87.95 L195.62,86.96 L196.53,85.90 L197.51,84.78 L198.52,83.61 L199.56,82.42 L200.61,81.22 L201.65,80.02 L202.67,78.84 L203.65,77.70 L204.60,76.50 L205.62,75.22 L206.68,73.87 L207.78,72.49 L208.88,71.10 L209.97,69.73 L211.02,68.41 L212.02,67.16 L212.93,66.01 L213.75,64.98 L214.45,64.11 L215.01,63.42Z" fill="#000"/>
<path d="M228.38,60.00 L227.85,60.71 L227.19,61.61 L226.42,62.65 L225.55,63.82 L224.60,65.09 L223.60,66.44 L222.56,67.82 L221.50,69.23 L220.44,70.62 L219.41,71.98 L218.41,73.27 L217.48,74.47 L216.59,75.66 L215.64,76.90 L214.65,78.18 L213.63,79.46 L212.61,80.74 L211.61,82.00 L210.64,83.23 L209.72,84.40 L208.88,85.51 L208.13,86.53 L207.48,87.47 L206.97,88.29 L206.61,88.99 L206.33,89.60 L206.12,90.14 L205.97,90.64 L205.90,91.16 L205.94,91.78 L206.30,92.45 L206.86,92.79 L207.33,92.84 L207.72,92.79 L208.10,92.70 L208.52,92.60 L209.03,92.57 L209.64,92.51 L210.34,92.42 L211.12,92.29 L211.98,92.13 L212.89,91.92 L213.86,91.66 L214.86,91.34 L215.89,90.96 L216.94,90.52 L218.00,90.02 L219.05,89.43 L220.13,88.78 L221.27,88.04 L222.46,87.22 L223.70,86.34 L224.96,85.40 L226.24,84.40 L227.51,83.37 L228.78,82.31 L230.02,81.23 L231.22,80.14 L232.37,79.04 L233.46,77.95 L234.52,76.80 L235.57,75.58 L236.60,74.28 L237.62,72.95 L238.61,71.59 L239.57,70.24 L240.49,68.92 L241.36,67.64 L242.17,66.44 L242.92,65.33 L243.60,64.34 L244.21,63.49 L244.74,62.77 L245.19,62.15 L245.57,61.61 L245.89,61.16 L246.16,60.77 L246.38,60.45 L246.57,60.17 L246.72,59.94 L246.85,59.74 L246.97,59.56 L247.08,59.40 L247.20,59.23 L246.20,58.57 L246.09,58.76 L245.98,58.94 L245.87,59.14 L245.75,59.34 L245.62,59.58 L245.46,59.85 L245.26,60.18 L245.01,60.56 L244.71,61.02 L244.35,61.55 L243.91,62.18 L243.39,62.91 L242.78,63.77 L242.10,64.77 L241.34,65.88 L240.53,67.08 L239.66,68.35 L238.75,69.67 L237.80,71.01 L236.82,72.35 L235.82,73.67 L234.80,74.94 L233.77,76.14 L232.74,77.25 L231.67,78.32 L230.54,79.40 L229.35,80.48 L228.13,81.55 L226.88,82.60 L225.61,83.62 L224.35,84.60 L223.11,85.53 L221.89,86.40 L220.72,87.20 L219.60,87.93 L218.55,88.57 L217.54,89.11 L216.53,89.58 L215.52,89.98 L214.53,90.33 L213.56,90.61 L212.63,90.85 L211.75,91.03 L210.94,91.17 L210.19,91.28 L209.52,91.35 L208.95,91.39 L208.48,91.40 L208.10,91.31 L207.81,91.21 L207.66,91.10 L207.73,91.03 L208.04,91.17 L208.28,91.54 L208.37,91.75 L208.48,91.74 L208.68,91.56 L208.97,91.25 L209.36,90.83 L209.83,90.31 L210.38,89.67 L211.07,88.91 L211.89,88.02 L212.82,87.04 L213.82,85.98 L214.89,84.86 L216.00,83.69 L217.14,82.49 L218.27,81.29 L219.40,80.08 L220.49,78.89 L221.52,77.73 L222.51,76.52 L223.55,75.23 L224.63,73.87 L225.72,72.48 L226.82,71.09 L227.89,69.71 L228.92,68.39 L229.90,67.13 L230.79,65.98 L231.59,64.96 L232.28,64.09 L232.82,63.40Z" fill="#000"/>
<path d="M245.68,59.14 L245.52,59.44 L245.33,59.81 L245.09,60.27 L244.82,60.79 L244.53,61.35 L244.23,61.95 L243.93,62.58 L243.64,63.22 L243.36,63.87 L243.10,64.50 L242.87,65.13 L242.68,65.72 L242.51,66.28 L242.35,66.82 L242.22,67.35 L242.10,67.89 L242.01,68.42 L241.93,68.95 L241.86,69.48 L241.81,70.01 L241.77,70.54 L241.74,71.07 L241.72,71.60 L241.71,72.19 L241.75,72.85 L241.85,73.52 L241.99,74.15 L242.14,74.74 L242.28,75.30 L242.41,75.81 L242.51,76.29 L242.58,76.72 L242.61,77.10 L242.59,77.44 L242.54,77.73 L242.44,78.05 L242.35,78.49 L242.21,79.02 L242.02,79.60 L241.79,80.20 L241.53,80.82 L241.23,81.44 L240.91,82.06 L240.55,82.66 L240.18,83.23 L239.79,83.77 L239.38,84.27 L238.98,84.71 L238.58,85.15 L238.10,85.59 L237.55,86.04 L236.93,86.49 L236.27,86.92 L235.58,87.34 L234.87,87.75 L234.15,88.14 L233.44,88.51 L232.76,88.86 L232.10,89.19 L231.50,89.49 L230.94,89.78 L230.39,90.04 L229.87,90.29 L229.36,90.51 L228.86,90.71 L228.39,90.89 L227.93,91.04 L227.50,91.17 L227.09,91.27 L226.71,91.35 L226.35,91.39 L226.02,91.41 L225.73,91.34 L225.43,91.23 L225.14,91.08 L224.85,90.90 L224.58,90.69 L224.33,90.45 L224.11,90.20 L223.92,89.94 L223.77,89.68 L223.66,89.43 L223.58,89.20 L223.55,89.00 L223.57,88.79 L223.63,88.53 L223.73,88.25 L223.88,87.95 L224.06,87.64 L224.28,87.33 L224.53,87.02 L224.80,86.73 L225.10,86.45 L225.42,86.20 L225.75,85.99 L226.09,85.81 L226.47,85.66 L226.92,85.53 L227.42,85.41 L227.97,85.32 L228.54,85.24 L229.14,85.18 L229.74,85.14 L230.33,85.11 L230.90,85.10 L231.43,85.11 L231.93,85.12 L232.36,85.15 L232.74,85.20 L233.10,85.28 L233.44,85.38 L233.78,85.51 L234.09,85.65 L234.40,85.80 L234.68,85.96 L234.94,86.12 L235.19,86.26 L235.42,86.40 L235.63,86.52 L235.80,86.61 L236.20,85.79 L236.05,85.72 L235.87,85.62 L235.65,85.49 L235.40,85.34 L235.12,85.18 L234.82,85.01 L234.48,84.84 L234.12,84.68 L233.73,84.53 L233.32,84.40 L232.89,84.31 L232.44,84.25 L231.97,84.22 L231.45,84.21 L230.89,84.20 L230.30,84.21 L229.68,84.24 L229.06,84.28 L228.44,84.34 L227.83,84.43 L227.24,84.53 L226.69,84.65 L226.18,84.81 L225.71,84.99 L225.29,85.21 L224.89,85.47 L224.52,85.77 L224.17,86.09 L223.85,86.43 L223.56,86.79 L223.30,87.15 L223.08,87.52 L222.91,87.90 L222.77,88.27 L222.68,88.64 L222.65,89.00 L222.67,89.37 L222.75,89.73 L222.89,90.10 L223.07,90.46 L223.29,90.81 L223.55,91.15 L223.85,91.47 L224.18,91.77 L224.54,92.04 L224.93,92.27 L225.34,92.45 L225.78,92.59 L226.22,92.72 L226.68,92.81 L227.18,92.87 L227.70,92.89 L228.24,92.89 L228.80,92.85 L229.38,92.78 L229.98,92.69 L230.59,92.57 L231.22,92.44 L231.86,92.28 L232.50,92.11 L233.17,91.92 L233.90,91.70 L234.66,91.46 L235.47,91.20 L236.30,90.90 L237.15,90.58 L238.00,90.23 L238.84,89.85 L239.68,89.43 L240.49,88.97 L241.28,88.45 L242.02,87.89 L242.66,87.25 L243.26,86.58 L243.82,85.87 L244.35,85.14 L244.84,84.38 L245.29,83.61 L245.70,82.83 L246.08,82.05 L246.41,81.27 L246.70,80.50 L246.95,79.74 L247.16,78.95 L247.23,78.09 L247.19,77.23 L247.06,76.44 L246.86,75.72 L246.63,75.06 L246.39,74.46 L246.14,73.92 L245.91,73.42 L245.70,72.97 L245.53,72.56 L245.39,72.19 L245.29,71.81 L245.20,71.36 L245.12,70.88 L245.04,70.42 L244.98,69.96 L244.92,69.50 L244.87,69.05 L244.84,68.60 L244.82,68.15 L244.82,67.69 L244.83,67.23 L244.87,66.76 L244.92,66.28 L245.03,65.78 L245.19,65.24 L245.38,64.65 L245.61,64.04 L245.85,63.42 L246.10,62.80 L246.36,62.19 L246.60,61.62 L246.83,61.09 L247.03,60.61 L247.20,60.19 L247.32,59.86Z" fill="#000"/>
<path d="M246.57,83.47 L246.95,83.34 L247.42,83.17 L247.99,82.98 L248.62,82.77 L249.30,82.53 L250.03,82.28 L250.79,82.01 L251.56,81.73 L252.33,81.44 L253.09,81.15 L253.82,80.85 L254.50,80.56 L255.19,80.24 L255.91,79.89 L256.65,79.51 L257.40,79.11 L258.15,78.71 L258.89,78.31 L259.59,77.92 L260.26,77.54 L260.87,77.20 L261.41,76.90 L261.87,76.64 L262.24,76.44 L261.76,75.56 L261.39,75.76 L260.92,76.02 L260.38,76.33 L259.77,76.67 L259.10,77.04 L258.40,77.43 L257.67,77.83 L256.93,78.23 L256.19,78.62 L255.46,78.99 L254.76,79.34 L254.10,79.64 L253.43,79.93 L252.72,80.22 L251.98,80.51 L251.22,80.79 L250.45,81.07 L249.70,81.33 L248.98,81.59 L248.29,81.82 L247.66,82.03 L247.10,82.23 L246.62,82.39 L246.23,82.53Z" fill="#000"/>
<path d="M274.03,60.10 L273.39,60.81 L272.57,61.72 L271.62,62.79 L270.55,64.00 L269.39,65.31 L268.17,66.69 L266.92,68.10 L265.66,69.52 L264.43,70.91 L263.24,72.24 L262.13,73.48 L261.13,74.58 L260.24,75.65 L259.35,76.70 L258.47,77.74 L257.59,78.76 L256.72,79.76 L255.89,80.73 L255.08,81.67 L254.32,82.57 L253.60,83.44 L252.94,84.26 L252.33,85.04 L251.80,85.77 L251.37,86.45 L251.01,87.08 L250.71,87.65 L250.47,88.19 L250.28,88.69 L250.14,89.16 L250.05,89.60 L250.00,90.02 L249.98,90.40 L250.01,90.74 L250.05,91.04 L250.10,91.29 L250.16,91.51 L250.22,91.76 L250.28,92.05 L250.37,92.37 L250.53,92.73 L250.80,93.10 L251.19,93.39 L251.62,93.51 L252.03,93.50 L252.43,93.42 L252.86,93.28 L253.33,93.08 L253.89,92.91 L254.54,92.71 L255.27,92.46 L256.07,92.18 L256.93,91.86 L257.84,91.49 L258.79,91.08 L259.77,90.63 L260.78,90.13 L261.80,89.59 L262.82,89.01 L263.84,88.38 L264.88,87.69 L265.97,86.93 L267.09,86.11 L268.25,85.24 L269.42,84.32 L270.61,83.38 L271.81,82.40 L272.99,81.42 L274.16,80.43 L275.31,79.45 L276.43,78.48 L277.50,77.54 L278.55,76.58 L279.59,75.57 L280.61,74.54 L281.62,73.49 L282.61,72.44 L283.59,71.40 L284.55,70.39 L285.48,69.41 L286.39,68.48 L287.28,67.62 L288.14,66.84 L288.98,66.15 L289.81,65.55 L290.63,65.00 L291.43,64.51 L292.22,64.06 L292.99,63.67 L293.74,63.32 L294.46,63.02 L295.14,62.75 L295.78,62.53 L296.38,62.35 L296.94,62.20 L297.42,62.09 L297.81,62.05 L298.12,62.08 L298.37,62.15 L298.59,62.26 L298.79,62.40 L298.96,62.56 L299.13,62.75 L299.29,62.95 L299.44,63.15 L299.61,63.37 L299.81,63.59 L300.00,63.75 L301.00,62.25 L300.91,62.23 L300.82,62.17 L300.66,62.04 L300.45,61.85 L300.20,61.63 L299.91,61.40 L299.57,61.18 L299.18,60.99 L298.73,60.85 L298.24,60.78 L297.72,60.80 L297.18,60.91 L296.63,61.07 L296.04,61.25 L295.41,61.47 L294.74,61.73 L294.04,62.03 L293.30,62.37 L292.53,62.75 L291.74,63.19 L290.93,63.67 L290.10,64.21 L289.27,64.80 L288.42,65.45 L287.56,66.16 L286.67,66.97 L285.76,67.85 L284.84,68.78 L283.89,69.77 L282.93,70.79 L281.96,71.82 L280.97,72.87 L279.97,73.91 L278.96,74.93 L277.93,75.92 L276.90,76.86 L275.83,77.80 L274.72,78.77 L273.58,79.74 L272.41,80.73 L271.23,81.71 L270.05,82.67 L268.87,83.62 L267.70,84.52 L266.56,85.39 L265.44,86.20 L264.37,86.95 L263.36,87.62 L262.36,88.23 L261.36,88.79 L260.36,89.31 L259.38,89.79 L258.41,90.22 L257.48,90.61 L256.58,90.96 L255.74,91.27 L254.96,91.54 L254.24,91.77 L253.61,91.96 L253.07,92.12 L252.63,92.15 L252.31,92.12 L252.12,92.05 L252.07,91.97 L252.18,91.94 L252.34,92.00 L252.47,92.08 L252.55,92.10 L252.63,92.05 L252.71,91.92 L252.80,91.74 L252.90,91.51 L252.99,91.31 L253.08,91.15 L253.17,91.02 L253.28,90.91 L253.39,90.78 L253.53,90.63 L253.71,90.44 L253.92,90.20 L254.19,89.90 L254.53,89.55 L254.93,89.12 L255.40,88.63 L255.93,88.06 L256.55,87.42 L257.24,86.71 L258.00,85.95 L258.82,85.14 L259.69,84.28 L260.60,83.38 L261.54,82.44 L262.51,81.47 L263.49,80.48 L264.48,79.46 L265.47,78.42 L266.46,77.26 L267.54,75.98 L268.70,74.61 L269.90,73.18 L271.12,71.73 L272.34,70.28 L273.52,68.86 L274.64,67.52 L275.68,66.28 L276.59,65.17 L277.37,64.24 L277.97,63.50Z" fill="#000"/>
<path d="M299.50,63.09 L299.44,63.44 L299.42,63.88 L299.43,64.31 L299.44,64.75 L299.44,65.20 L299.42,65.64 L299.37,66.08 L299.29,66.50 L299.17,66.90 L299.01,67.28 L298.81,67.64 L298.53,68.01 L298.20,68.51 L297.74,69.11 L297.19,69.79 L296.57,70.51 L295.88,71.28 L295.14,72.06 L294.37,72.86 L293.58,73.66 L292.78,74.45 L291.99,75.22 L291.22,75.96 L290.49,76.65 L289.86,77.34 L289.20,78.03 L288.50,78.72 L287.77,79.41 L287.02,80.10 L286.28,80.78 L285.54,81.45 L284.83,82.11 L284.14,82.76 L283.49,83.39 L282.88,84.01 L282.35,84.60 L281.91,85.18 L281.54,85.71 L281.21,86.22 L280.91,86.71 L280.66,87.19 L280.44,87.65 L280.26,88.10 L280.11,88.54 L280.00,88.98 L279.93,89.40 L279.90,89.82 L279.92,90.18 L279.95,90.46 L279.98,90.75 L280.00,91.09 L280.04,91.47 L280.13,91.89 L280.31,92.33 L280.61,92.75 L281.04,93.05 L281.52,93.21 L282.04,93.25 L282.60,93.21 L283.25,93.10 L284.03,92.99 L284.97,92.84 L286.04,92.64 L287.22,92.40 L288.49,92.11 L289.82,91.79 L291.17,91.42 L292.54,91.02 L293.88,90.59 L295.17,90.12 L296.39,89.63 L297.50,89.10 L298.54,88.54 L299.55,87.94 L300.54,87.28 L301.49,86.59 L302.42,85.87 L303.33,85.12 L304.21,84.36 L305.07,83.57 L305.91,82.78 L306.73,81.99 L307.53,81.20 L308.32,80.42 L309.10,79.61 L309.89,78.75 L310.67,77.86 L311.43,76.94 L312.17,76.02 L312.89,75.11 L313.57,74.20 L314.22,73.33 L314.81,72.49 L315.36,71.71 L315.85,70.99 L316.28,70.34 L316.65,69.76 L316.94,69.21 L317.18,68.70 L317.36,68.24 L317.49,67.81 L317.59,67.42 L317.65,67.07 L317.69,66.75 L317.72,66.49 L317.75,66.26 L317.79,66.09 L317.83,65.93 L316.77,65.67 L316.72,65.89 L316.69,66.14 L316.68,66.39 L316.66,66.65 L316.64,66.93 L316.60,67.23 L316.54,67.57 L316.44,67.93 L316.30,68.34 L316.11,68.80 L315.85,69.30 L315.52,69.86 L315.10,70.49 L314.62,71.20 L314.08,71.97 L313.49,72.80 L312.85,73.66 L312.17,74.56 L311.47,75.46 L310.73,76.37 L309.98,77.27 L309.22,78.15 L308.45,78.99 L307.68,79.78 L306.90,80.56 L306.10,81.35 L305.29,82.13 L304.46,82.91 L303.61,83.68 L302.75,84.44 L301.86,85.17 L300.95,85.87 L300.02,86.54 L299.07,87.17 L298.10,87.76 L297.10,88.30 L296.02,88.79 L294.84,89.26 L293.58,89.71 L292.26,90.13 L290.92,90.51 L289.58,90.86 L288.27,91.18 L287.02,91.45 L285.85,91.69 L284.80,91.87 L283.89,92.01 L283.15,92.10 L282.59,92.06 L282.21,91.97 L281.99,91.84 L281.95,91.73 L282.01,91.69 L282.09,91.68 L282.17,91.65 L282.24,91.54 L282.33,91.38 L282.44,91.16 L282.57,90.89 L282.68,90.62 L282.79,90.44 L282.90,90.31 L283.03,90.16 L283.18,90.01 L283.35,89.83 L283.56,89.63 L283.81,89.40 L284.09,89.14 L284.41,88.85 L284.78,88.53 L285.20,88.17 L285.65,87.80 L286.13,87.38 L286.69,86.92 L287.32,86.42 L288.02,85.87 L288.77,85.30 L289.56,84.69 L290.38,84.06 L291.21,83.40 L292.05,82.72 L292.89,82.01 L293.72,81.29 L294.51,80.55 L295.20,79.76 L295.92,78.93 L296.66,78.06 L297.42,77.17 L298.18,76.26 L298.92,75.34 L299.64,74.42 L300.32,73.50 L300.96,72.60 L301.53,71.72 L302.03,70.85 L302.47,69.99 L302.75,69.07 L302.91,68.16 L302.95,67.31 L302.89,66.52 L302.76,65.80 L302.58,65.16 L302.37,64.59 L302.16,64.09 L301.95,63.68 L301.76,63.35 L301.61,63.11 L301.50,62.91Z" fill="#000"/>
<path d="M322.48,75.54 L322.99,75.45 L323.64,75.35 L324.41,75.23 L325.27,75.10 L326.21,74.96 L327.20,74.80 L328.23,74.62 L329.28,74.41 L330.33,74.19 L331.35,73.93 L332.34,73.64 L333.26,73.32 L334.16,72.96 L335.09,72.54 L336.05,72.09 L337.01,71.60 L337.96,71.09 L338.90,70.56 L339.80,70.03 L340.66,69.50 L341.46,68.98 L342.20,68.47 L342.84,67.99 L343.39,67.54 L343.87,67.11 L344.27,66.68 L344.60,66.25 L344.87,65.82 L345.08,65.39 L345.23,64.97 L345.32,64.56 L345.36,64.16 L345.35,63.77 L345.30,63.41 L345.22,63.07 L345.09,62.75 L344.94,62.43 L344.74,62.11 L344.49,61.81 L344.18,61.52 L343.83,61.26 L343.42,61.02 L342.98,60.82 L342.48,60.66 L341.95,60.54 L341.37,60.48 L340.76,60.47 L340.13,60.51 L339.47,60.54 L338.77,60.61 L338.01,60.71 L337.21,60.85 L336.37,61.03 L335.49,61.25 L334.58,61.52 L333.65,61.85 L332.69,62.22 L331.71,62.66 L330.72,63.15 L329.72,63.71 L328.72,64.36 L327.69,65.10 L326.63,65.90 L325.55,66.76 L324.47,67.66 L323.39,68.60 L322.31,69.55 L321.26,70.50 L320.23,71.45 L319.24,72.37 L318.30,73.26 L317.41,74.11 L316.64,75.02 L315.87,75.94 L315.13,76.87 L314.41,77.79 L313.73,78.71 L313.07,79.61 L312.45,80.49 L311.87,81.35 L311.33,82.17 L310.83,82.96 L310.39,83.70 L309.98,84.41 L309.68,85.13 L309.43,85.81 L309.23,86.47 L309.09,87.09 L309.00,87.68 L308.96,88.24 L308.96,88.76 L309.00,89.25 L309.08,89.69 L309.17,90.09 L309.29,90.45 L309.40,90.72 L309.51,90.92 L309.60,91.13 L309.69,91.40 L309.79,91.73 L309.93,92.11 L310.17,92.51 L310.54,92.88 L310.99,93.10 L311.45,93.19 L311.93,93.19 L312.44,93.12 L313.04,93.00 L313.76,92.92 L314.62,92.80 L315.59,92.63 L316.66,92.43 L317.81,92.20 L319.01,91.93 L320.23,91.64 L321.47,91.31 L322.70,90.97 L323.88,90.60 L325.02,90.22 L326.07,89.82 L327.06,89.40 L328.04,88.95 L329.01,88.47 L329.95,87.96 L330.89,87.43 L331.80,86.88 L332.70,86.32 L333.59,85.74 L334.46,85.15 L335.31,84.56 L336.15,83.96 L336.97,83.36 L337.80,82.72 L338.65,82.02 L339.50,81.28 L340.35,80.52 L341.18,79.74 L341.99,78.97 L342.75,78.23 L343.47,77.52 L344.12,76.87 L344.71,76.30 L345.20,75.81 L345.61,75.43 L344.99,74.77 L344.58,75.16 L344.07,75.66 L343.49,76.24 L342.84,76.88 L342.12,77.59 L341.36,78.33 L340.57,79.09 L339.74,79.85 L338.91,80.61 L338.07,81.33 L337.24,82.02 L336.43,82.64 L335.62,83.23 L334.79,83.82 L333.95,84.41 L333.09,84.99 L332.22,85.56 L331.33,86.12 L330.43,86.65 L329.52,87.17 L328.59,87.67 L327.65,88.14 L326.70,88.58 L325.73,88.98 L324.71,89.36 L323.61,89.73 L322.44,90.08 L321.23,90.41 L320.01,90.72 L318.79,91.01 L317.61,91.26 L316.48,91.48 L315.42,91.67 L314.47,91.82 L313.64,91.94 L312.96,92.00 L312.44,91.93 L312.07,91.83 L311.86,91.70 L311.82,91.58 L311.92,91.54 L312.05,91.57 L312.16,91.60 L312.25,91.54 L312.34,91.39 L312.43,91.15 L312.52,90.83 L312.60,90.48 L312.66,90.19 L312.74,89.95 L312.82,89.74 L312.92,89.54 L313.04,89.33 L313.17,89.12 L313.32,88.89 L313.49,88.64 L313.70,88.34 L313.96,88.01 L314.26,87.63 L314.62,87.19 L315.00,86.64 L315.44,86.03 L315.93,85.36 L316.47,84.65 L317.06,83.90 L317.68,83.13 L318.34,82.33 L319.02,81.53 L319.74,80.71 L320.47,79.90 L321.22,79.09 L321.99,78.29 L322.72,77.39 L323.52,76.43 L324.37,75.44 L325.25,74.43 L326.15,73.41 L327.08,72.40 L328.00,71.41 L328.92,70.46 L329.82,69.56 L330.69,68.72 L331.51,67.96 L332.28,67.29 L333.00,66.68 L333.74,66.11 L334.48,65.58 L335.22,65.09 L335.96,64.64 L336.68,64.22 L337.39,63.85 L338.07,63.51 L338.73,63.21 L339.36,62.93 L339.94,62.69 L340.47,62.49 L340.94,62.38 L341.37,62.33 L341.78,62.31 L342.15,62.33 L342.50,62.38 L342.83,62.45 L343.12,62.55 L343.38,62.67 L343.61,62.80 L343.81,62.95 L343.98,63.10 L344.11,63.25 L344.19,63.43 L344.26,63.64 L344.31,63.88 L344.33,64.13 L344.31,64.41 L344.26,64.71 L344.16,65.02 L344.02,65.36 L343.81,65.72 L343.55,66.08 L343.22,66.47 L342.81,66.86 L342.29,67.28 L341.67,67.74 L340.96,68.23 L340.18,68.74 L339.34,69.26 L338.45,69.79 L337.53,70.30 L336.59,70.80 L335.65,71.28 L334.72,71.73 L333.81,72.13 L332.94,72.48 L332.06,72.78 L331.12,73.06 L330.12,73.31 L329.10,73.53 L328.07,73.73 L327.05,73.91 L326.07,74.07 L325.13,74.21 L324.27,74.34 L323.50,74.46 L322.84,74.56 L322.32,74.66Z" fill="#000"/>
<circle cx="103.8" cy="91" r="1.7" fill="#000"/>
<circle cx="152.9" cy="63.2" r="1.7" fill="#000"/>
<circle cx="172.8" cy="68.4" r="1.9" fill="#000"/>
<circle cx="246.8" cy="59" r="2.5" fill="#000"/>
<circle cx="317" cy="63.6" r="2.7" fill="#000"/>
<ellipse cx="284.4" cy="50.7" rx="3.6" ry="2.6" transform="rotate(-30 284.4 50.7)" fill="#000"/>
</g>

<!-- logo subtitle -->
<text transform="translate(106.6,126.5) scale(1.45,1)" font-size="18.8" style="font-family:'Liberation Serif',serif;stroke:#000;stroke-width:0.22">IRON</text>
<text transform="translate(224.6,126.5) scale(1.36,1)" font-size="17.4" style="stroke:#000;stroke-width:0.4">DOORS</text>
<g fill="none" stroke="#000" stroke-width="1.3" stroke-linecap="round" stroke-linejoin="round">
<path d="M198.8,106 C197,108.5 192.5,110.5 191.2,114.2 C195,116 200,117.3 203,118.8 C208,121.5 209.8,128 206.8,132.5 C203.8,136.8 195.5,137.2 191.5,133.8 C190,132.3 189.8,131.3 190.5,130.6"/>
<path d="M197.2,122.6 C195,124 195.3,127.6 198.4,128.6 C202,129.6 204.2,126.2 203.7,123.5 C203.2,120.8 201.5,119.6 200,119.2" stroke-width="1.1"/>
</g>
<circle cx="198.8" cy="106" r="1.9"/>
<circle cx="190.6" cy="130.4" r="1.9"/>
<circle cx="197.2" cy="122.6" r="1.8"/>

</svg>
</body></html>
